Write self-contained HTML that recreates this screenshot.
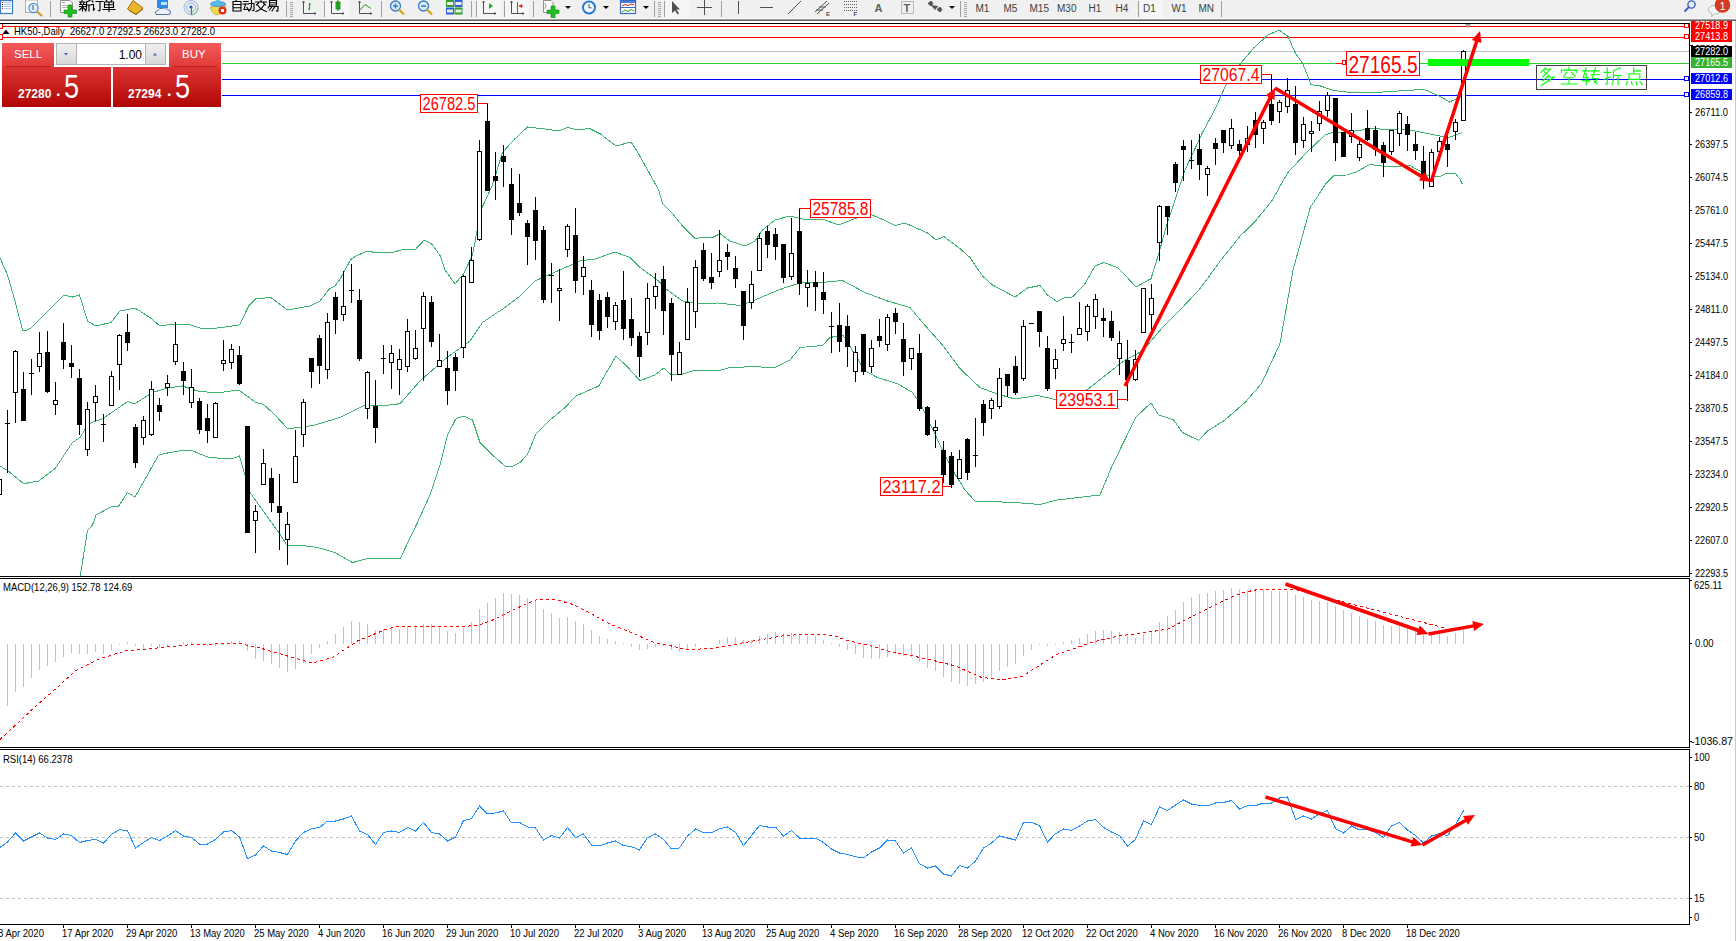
<!DOCTYPE html>
<html><head><meta charset="utf-8">
<style>
html,body{margin:0;padding:0;}
body{width:1736px;height:941px;overflow:hidden;position:relative;background:#fff;font-family:"Liberation Sans",sans-serif;}
#tb{position:absolute;left:0;top:0;width:1736px;height:18px;background:#f0f0f0;border-bottom:1px solid #f6f6f6;}
#tbl{position:absolute;left:0;top:19px;width:1736px;height:1px;background:#a0a0a0;border-bottom:1px solid #646464;}
#main{position:absolute;left:0;top:0;}
.tp{position:absolute;}
</style></head><body>
<div id="tb"></div><div id="tbl"></div>
<svg id="main" width="1736" height="941" viewBox="0 0 1736 941">
<defs><clipPath id="cm"><rect x="0" y="24" width="1689" height="552"/></clipPath><clipPath id="cmacd"><rect x="0" y="579" width="1689" height="168"/></clipPath><clipPath id="crsi"><rect x="0" y="750" width="1689" height="174"/></clipPath></defs>
<g shape-rendering="crispEdges">
<rect x="0" y="26" width="1689" height="1" fill="#ff0000"/>
<rect x="0" y="37" width="1689" height="1" fill="#ff0000"/>
<rect x="0" y="51" width="1689" height="1" fill="#c0c0c0"/>
<rect x="0" y="63" width="1689" height="1" fill="#32cd32"/>
<rect x="0" y="79" width="1689" height="1" fill="#0000ff"/>
<rect x="0" y="95" width="1689" height="1" fill="#0000ff"/>
<rect x="-1.5" y="23.5" width="4" height="5" fill="#fff" stroke="#ff0000" stroke-width="1"/>
<rect x="1684.5" y="23.5" width="4" height="4" fill="#fff" stroke="#ff0000" stroke-width="1"/>
<rect x="-1.5" y="34.5" width="4" height="5" fill="#fff" stroke="#ff0000" stroke-width="1"/>
<rect x="1684.5" y="34.5" width="4" height="4" fill="#fff" stroke="#ff0000" stroke-width="1"/>
<rect x="1684.5" y="76.5" width="4" height="4" fill="#fff" stroke="#0000ff" stroke-width="1"/>
<rect x="1684.5" y="92.5" width="4" height="4" fill="#fff" stroke="#0000ff" stroke-width="1"/>
</g>
<g clip-path="url(#cm)" fill="none" stroke="#3cb371" stroke-width="1" shape-rendering="crispEdges">
<polyline points="0.0,258.0 7.4,274.6 14.9,300.7 22.5,330.0 27.0,330.0 31.0,328.0 64.0,295.0 72.5,297.0 79.5,295.0 87.5,321.0 96.0,326.0 111.0,322.5 120.0,311.0 135.0,308.0 150.0,317.5 160.0,326.0 175.0,324.0 187.5,324.0 200.0,328.0 217.0,328.0 225.0,327.0 239.5,325.0 248.7,306.0 256.0,298.7 271.0,297.5 287.5,310.0 310.0,306.0 320.0,301.0 328.7,289.5 335.0,286.0 340.0,279.3 350.6,259.6 356.0,255.9 366.6,251.4 371.9,251.6 373.0,252.5 392.0,252.5 403.8,249.3 415.5,249.3 424.0,240.2 431.4,243.7 440.0,255.4 445.0,270.0 455.0,284.0 463.7,273.7 472.5,255.0 481.0,210.0 492.5,185.0 502.5,152.5 515.0,138.7 527.5,127.0 542.5,128.7 558.7,131.0 567.5,127.5 576.0,129.5 590.0,128.7 600.0,133.7 616.0,146.0 631.0,142.0 637.0,151.0 658.7,190.0 662.5,203.7 672.5,213.7 682.5,226.0 695.0,238.7 705.0,237.0 712.5,237.5 720.0,233.7 730.0,241.0 745.0,246.0 755.0,241.0 762.5,230.0 775.0,220.0 790.0,216.0 802.5,219.0 823.7,219.5 838.7,225.0 850.0,220.5 860.0,217.0 871.0,214.5 885.0,220.5 895.0,225.5 905.0,223.0 915.0,227.5 927.5,233.0 936.0,240.0 944.0,236.7 960.0,248.7 970.0,257.5 982.5,276.0 992.5,285.0 1015.0,297.0 1027.5,288.0 1040.0,285.5 1047.5,295.0 1057.0,301.7 1065.0,297.5 1072.5,297.0 1085.0,283.7 1095.0,266.0 1103.7,262.5 1117.5,267.5 1125.0,275.0 1136.0,287.0 1151.0,278.7 1157.5,258.0 1167.5,222.5 1185.0,170.0 1202.5,132.5 1215.7,108.0 1226.0,84.8 1242.0,61.8 1253.7,48.0 1267.5,35.3 1279.0,30.0 1288.0,36.4 1295.0,52.6 1303.0,64.0 1311.0,84.8 1320.5,86.0 1334.0,90.6 1357.0,93.0 1380.4,92.2 1403.5,90.6 1424.0,89.4 1440.0,96.3 1449.5,102.0 1458.8,97.5 1462.5,96.0"/>
<polyline points="0.0,466.0 7.5,470.5 23.7,483.7 38.7,481.0 55.0,468.7 72.5,442.5 80.0,437.5 88.7,423.7 102.5,418.7 127.5,401.7 135.0,403.7 152.5,392.5 167.5,388.0 182.5,386.0 197.5,391.0 217.0,393.0 238.7,390.0 256.0,402.5 263.7,404.5 275.0,415.0 287.5,428.5 300.0,427.5 315.0,425.0 340.0,417.5 365.0,405.0 385.0,405.5 400.0,403.7 420.0,381.0 445.0,359.0 470.0,341.0 482.5,322.5 505.0,307.5 520.0,296.0 535.0,281.0 557.5,271.0 580.0,261.0 595.0,259.0 615.0,252.0 630.0,257.5 640.0,267.5 658.7,281.0 666.0,289.0 682.5,301.0 700.0,303.7 717.5,303.0 740.0,305.5 755.0,300.0 772.5,292.5 787.5,286.7 802.5,282.5 827.5,282.0 842.5,280.5 865.0,292.5 887.5,301.0 910.0,307.5 922.5,322.5 942.5,345.0 960.0,368.7 980.0,387.5 997.5,394.0 1015.0,399.0 1037.5,395.5 1057.5,400.0 1087.5,389.5 1107.5,373.7 1125.0,360.0 1142.5,351.0 1162.5,327.5 1180.0,310.0 1200.0,288.7 1221.0,260.0 1240.0,236.3 1256.0,220.4 1272.0,200.5 1287.8,172.6 1306.4,152.7 1325.0,135.0 1332.5,132.5 1348.7,132.0 1370.0,128.7 1410.0,130.0 1440.0,136.0 1447.5,138.0 1462.5,132.5"/>
<polyline points="78.0,590.0 87.4,531.0 92.5,525.0 96.0,515.0 111.0,507.0 118.7,506.0 127.5,492.5 135.0,497.0 158.7,455.0 167.5,453.0 185.0,450.0 192.5,450.7 207.5,457.0 217.0,458.0 231.0,459.0 239.5,456.0 245.0,475.0 250.0,492.5 262.5,510.0 278.7,532.5 287.5,546.0 302.5,545.5 317.5,547.5 335.0,552.5 352.5,562.5 367.5,558.7 400.0,559.0 417.5,522.5 430.0,495.0 440.0,465.0 447.5,435.0 456.0,418.7 463.7,416.0 472.5,420.0 480.0,442.5 492.5,455.0 505.0,466.0 511.0,467.0 520.0,462.5 527.5,454.5 536.0,434.0 550.0,420.0 565.0,407.5 576.0,396.0 598.7,386.0 616.0,356.0 627.5,367.0 640.0,380.7 655.0,375.0 663.7,368.0 671.0,374.5 680.0,375.0 695.0,370.0 717.5,371.0 730.0,367.5 752.5,366.7 775.0,367.5 790.0,360.0 800.0,347.5 822.5,345.5 830.0,337.5 843.0,335.0 865.0,371.0 877.5,377.5 897.5,383.7 912.5,392.5 922.5,407.5 940.0,445.0 952.5,470.0 965.0,490.0 975.0,501.0 1015.0,502.5 1040.0,504.5 1057.0,500.0 1100.0,495.0 1112.5,465.0 1136.0,417.0 1151.0,403.0 1158.7,415.0 1173.7,420.0 1182.5,432.5 1198.7,440.5 1207.5,431.0 1225.0,420.0 1245.0,402.5 1261.3,383.8 1279.9,344.0 1293.1,269.6 1310.4,207.1 1326.3,183.2 1334.3,175.2 1347.0,175.0 1355.0,172.5 1370.0,164.5 1390.0,167.0 1409.5,165.3 1421.0,171.7 1428.0,175.5 1440.0,176.5 1446.0,173.6 1455.5,173.5 1460.0,179.3 1462.5,184.5"/>
</g>
<g clip-path="url(#cm)" shape-rendering="crispEdges">
<rect x="-1" y="475" width="1" height="26" fill="#000"/>
<rect x="-2.5" y="479.5" width="4" height="15" fill="#fff" stroke="#000" stroke-width="1"/>
<rect x="7" y="410" width="1" height="63" fill="#000"/>
<rect x="5" y="423" width="5" height="1" fill="#000"/>
<rect x="15" y="350" width="1" height="73" fill="#000"/>
<rect x="13.5" y="351.5" width="4" height="41" fill="#fff" stroke="#000" stroke-width="1"/>
<rect x="23" y="372" width="1" height="49" fill="#000"/>
<rect x="21" y="389" width="5" height="32" fill="#000"/>
<rect x="31" y="359" width="1" height="36" fill="#000"/>
<rect x="29" y="373" width="5" height="1" fill="#000"/>
<rect x="39" y="332" width="1" height="40" fill="#000"/>
<rect x="37.5" y="353.5" width="4" height="13" fill="#fff" stroke="#000" stroke-width="1"/>
<rect x="47" y="331" width="1" height="62" fill="#000"/>
<rect x="45" y="352" width="5" height="40" fill="#000"/>
<rect x="55" y="382" width="1" height="33" fill="#000"/>
<rect x="53.5" y="400.5" width="4" height="4" fill="#fff" stroke="#000" stroke-width="1"/>
<rect x="63" y="323" width="1" height="46" fill="#000"/>
<rect x="61" y="342" width="5" height="18" fill="#000"/>
<rect x="71" y="345" width="1" height="33" fill="#000"/>
<rect x="69" y="363" width="5" height="4" fill="#000"/>
<rect x="79" y="369" width="1" height="66" fill="#000"/>
<rect x="77" y="378" width="5" height="47" fill="#000"/>
<rect x="87" y="402" width="1" height="54" fill="#000"/>
<rect x="85.5" y="409.5" width="4" height="40" fill="#fff" stroke="#000" stroke-width="1"/>
<rect x="95" y="385" width="1" height="36" fill="#000"/>
<rect x="93.5" y="396.5" width="4" height="6" fill="#fff" stroke="#000" stroke-width="1"/>
<rect x="103" y="414" width="1" height="28" fill="#000"/>
<rect x="101" y="424" width="5" height="1" fill="#000"/>
<rect x="111" y="371" width="1" height="35" fill="#000"/>
<rect x="109.5" y="376.5" width="4" height="29" fill="#fff" stroke="#000" stroke-width="1"/>
<rect x="119" y="334" width="1" height="56" fill="#000"/>
<rect x="117.5" y="335.5" width="4" height="29" fill="#fff" stroke="#000" stroke-width="1"/>
<rect x="127" y="314" width="1" height="37" fill="#000"/>
<rect x="125" y="332" width="5" height="11" fill="#000"/>
<rect x="135" y="424" width="1" height="44" fill="#000"/>
<rect x="133" y="427" width="5" height="36" fill="#000"/>
<rect x="143" y="416" width="1" height="29" fill="#000"/>
<rect x="141.5" y="420.5" width="4" height="17" fill="#fff" stroke="#000" stroke-width="1"/>
<rect x="151" y="381" width="1" height="55" fill="#000"/>
<rect x="149.5" y="389.5" width="4" height="45" fill="#fff" stroke="#000" stroke-width="1"/>
<rect x="159" y="398" width="1" height="23" fill="#000"/>
<rect x="157" y="405" width="5" height="7" fill="#000"/>
<rect x="167" y="375" width="1" height="21" fill="#000"/>
<rect x="165.5" y="383.5" width="4" height="4" fill="#fff" stroke="#000" stroke-width="1"/>
<rect x="175" y="322" width="1" height="43" fill="#000"/>
<rect x="173.5" y="344.5" width="4" height="17" fill="#fff" stroke="#000" stroke-width="1"/>
<rect x="183" y="362" width="1" height="33" fill="#000"/>
<rect x="181" y="371" width="5" height="10" fill="#000"/>
<rect x="191" y="369" width="1" height="39" fill="#000"/>
<rect x="189.5" y="387.5" width="4" height="15" fill="#fff" stroke="#000" stroke-width="1"/>
<rect x="199" y="398" width="1" height="36" fill="#000"/>
<rect x="197" y="401" width="5" height="29" fill="#000"/>
<rect x="207" y="404" width="1" height="39" fill="#000"/>
<rect x="205" y="418" width="5" height="13" fill="#000"/>
<rect x="215" y="402" width="1" height="36" fill="#000"/>
<rect x="213.5" y="403.5" width="4" height="34" fill="#fff" stroke="#000" stroke-width="1"/>
<rect x="223" y="340" width="1" height="31" fill="#000"/>
<rect x="221.5" y="360.5" width="4" height="3" fill="#fff" stroke="#000" stroke-width="1"/>
<rect x="231" y="344" width="1" height="25" fill="#000"/>
<rect x="229.5" y="349.5" width="4" height="13" fill="#fff" stroke="#000" stroke-width="1"/>
<rect x="239" y="346" width="1" height="39" fill="#000"/>
<rect x="237" y="355" width="5" height="29" fill="#000"/>
<rect x="247" y="426" width="1" height="107" fill="#000"/>
<rect x="245" y="426" width="5" height="107" fill="#000"/>
<rect x="255" y="505" width="1" height="48" fill="#000"/>
<rect x="253.5" y="511.5" width="4" height="9" fill="#fff" stroke="#000" stroke-width="1"/>
<rect x="263" y="449" width="1" height="36" fill="#000"/>
<rect x="261.5" y="463.5" width="4" height="21" fill="#fff" stroke="#000" stroke-width="1"/>
<rect x="271" y="468" width="1" height="44" fill="#000"/>
<rect x="269" y="478" width="5" height="25" fill="#000"/>
<rect x="279" y="474" width="1" height="76" fill="#000"/>
<rect x="277" y="506" width="5" height="7" fill="#000"/>
<rect x="287" y="512" width="1" height="53" fill="#000"/>
<rect x="285.5" y="524.5" width="4" height="15" fill="#fff" stroke="#000" stroke-width="1"/>
<rect x="295" y="430" width="1" height="53" fill="#000"/>
<rect x="293.5" y="456.5" width="4" height="26" fill="#fff" stroke="#000" stroke-width="1"/>
<rect x="303" y="399" width="1" height="48" fill="#000"/>
<rect x="301.5" y="402.5" width="4" height="32" fill="#fff" stroke="#000" stroke-width="1"/>
<rect x="311" y="358" width="1" height="30" fill="#000"/>
<rect x="309" y="358" width="5" height="14" fill="#000"/>
<rect x="319" y="335" width="1" height="49" fill="#000"/>
<rect x="317" y="338" width="5" height="28" fill="#000"/>
<rect x="327" y="313" width="1" height="66" fill="#000"/>
<rect x="325.5" y="322.5" width="4" height="47" fill="#fff" stroke="#000" stroke-width="1"/>
<rect x="335" y="292" width="1" height="42" fill="#000"/>
<rect x="333" y="297" width="5" height="23" fill="#000"/>
<rect x="343" y="271" width="1" height="50" fill="#000"/>
<rect x="341.5" y="306.5" width="4" height="8" fill="#fff" stroke="#000" stroke-width="1"/>
<rect x="351" y="264" width="1" height="39" fill="#000"/>
<rect x="349" y="290" width="5" height="1" fill="#000"/>
<rect x="359" y="289" width="1" height="72" fill="#000"/>
<rect x="357" y="300" width="5" height="59" fill="#000"/>
<rect x="367" y="371" width="1" height="48" fill="#000"/>
<rect x="365.5" y="372.5" width="4" height="36" fill="#fff" stroke="#000" stroke-width="1"/>
<rect x="375" y="380" width="1" height="63" fill="#000"/>
<rect x="373" y="406" width="5" height="22" fill="#000"/>
<rect x="383" y="345" width="1" height="29" fill="#000"/>
<rect x="381" y="358" width="5" height="1" fill="#000"/>
<rect x="391" y="345" width="1" height="44" fill="#000"/>
<rect x="389.5" y="353.5" width="4" height="9" fill="#fff" stroke="#000" stroke-width="1"/>
<rect x="399" y="349" width="1" height="46" fill="#000"/>
<rect x="397.5" y="359.5" width="4" height="10" fill="#fff" stroke="#000" stroke-width="1"/>
<rect x="407" y="319" width="1" height="53" fill="#000"/>
<rect x="405.5" y="331.5" width="4" height="35" fill="#fff" stroke="#000" stroke-width="1"/>
<rect x="415" y="330" width="1" height="30" fill="#000"/>
<rect x="413.5" y="348.5" width="4" height="10" fill="#fff" stroke="#000" stroke-width="1"/>
<rect x="423" y="292" width="1" height="89" fill="#000"/>
<rect x="421.5" y="296.5" width="4" height="32" fill="#fff" stroke="#000" stroke-width="1"/>
<rect x="431" y="296" width="1" height="51" fill="#000"/>
<rect x="429" y="302" width="5" height="40" fill="#000"/>
<rect x="439" y="334" width="1" height="33" fill="#000"/>
<rect x="437.5" y="360.5" width="4" height="6" fill="#fff" stroke="#000" stroke-width="1"/>
<rect x="447" y="351" width="1" height="54" fill="#000"/>
<rect x="445" y="368" width="5" height="23" fill="#000"/>
<rect x="455" y="353" width="1" height="38" fill="#000"/>
<rect x="453" y="357" width="5" height="14" fill="#000"/>
<rect x="463" y="275" width="1" height="83" fill="#000"/>
<rect x="461.5" y="276.5" width="4" height="71" fill="#fff" stroke="#000" stroke-width="1"/>
<rect x="471" y="247" width="1" height="36" fill="#000"/>
<rect x="469.5" y="260.5" width="4" height="22" fill="#fff" stroke="#000" stroke-width="1"/>
<rect x="479" y="140" width="1" height="101" fill="#000"/>
<rect x="477.5" y="151.5" width="4" height="88" fill="#fff" stroke="#000" stroke-width="1"/>
<rect x="487" y="104" width="1" height="87" fill="#000"/>
<rect x="485" y="121" width="5" height="70" fill="#000"/>
<rect x="495" y="152" width="1" height="48" fill="#000"/>
<rect x="493" y="176" width="5" height="5" fill="#000"/>
<rect x="503" y="145" width="1" height="42" fill="#000"/>
<rect x="501" y="156" width="5" height="6" fill="#000"/>
<rect x="511" y="168" width="1" height="67" fill="#000"/>
<rect x="509" y="184" width="5" height="36" fill="#000"/>
<rect x="519" y="174" width="1" height="42" fill="#000"/>
<rect x="517" y="203" width="5" height="10" fill="#000"/>
<rect x="527" y="220" width="1" height="45" fill="#000"/>
<rect x="525" y="223" width="5" height="14" fill="#000"/>
<rect x="535" y="197" width="1" height="63" fill="#000"/>
<rect x="533" y="210" width="5" height="31" fill="#000"/>
<rect x="543" y="226" width="1" height="77" fill="#000"/>
<rect x="541" y="230" width="5" height="70" fill="#000"/>
<rect x="551" y="263" width="1" height="40" fill="#000"/>
<rect x="549" y="275" width="5" height="1" fill="#000"/>
<rect x="559" y="269" width="1" height="52" fill="#000"/>
<rect x="557.5" y="288.5" width="4" height="2" fill="#fff" stroke="#000" stroke-width="1"/>
<rect x="567" y="224" width="1" height="33" fill="#000"/>
<rect x="565.5" y="226.5" width="4" height="23" fill="#fff" stroke="#000" stroke-width="1"/>
<rect x="575" y="208" width="1" height="85" fill="#000"/>
<rect x="573" y="235" width="5" height="46" fill="#000"/>
<rect x="583" y="256" width="1" height="39" fill="#000"/>
<rect x="581.5" y="267.5" width="4" height="9" fill="#fff" stroke="#000" stroke-width="1"/>
<rect x="591" y="280" width="1" height="57" fill="#000"/>
<rect x="589" y="290" width="5" height="35" fill="#000"/>
<rect x="599" y="294" width="1" height="46" fill="#000"/>
<rect x="597" y="300" width="5" height="31" fill="#000"/>
<rect x="607" y="292" width="1" height="36" fill="#000"/>
<rect x="605" y="297" width="5" height="20" fill="#000"/>
<rect x="615" y="302" width="1" height="28" fill="#000"/>
<rect x="613.5" y="305.5" width="4" height="16" fill="#fff" stroke="#000" stroke-width="1"/>
<rect x="623" y="271" width="1" height="69" fill="#000"/>
<rect x="621" y="300" width="5" height="29" fill="#000"/>
<rect x="631" y="298" width="1" height="48" fill="#000"/>
<rect x="629" y="319" width="5" height="19" fill="#000"/>
<rect x="639" y="332" width="1" height="45" fill="#000"/>
<rect x="637" y="336" width="5" height="21" fill="#000"/>
<rect x="647" y="283" width="1" height="62" fill="#000"/>
<rect x="645.5" y="298.5" width="4" height="34" fill="#fff" stroke="#000" stroke-width="1"/>
<rect x="655" y="273" width="1" height="36" fill="#000"/>
<rect x="653.5" y="286.5" width="4" height="10" fill="#fff" stroke="#000" stroke-width="1"/>
<rect x="663" y="266" width="1" height="69" fill="#000"/>
<rect x="661" y="279" width="5" height="32" fill="#000"/>
<rect x="671" y="298" width="1" height="83" fill="#000"/>
<rect x="669" y="303" width="5" height="52" fill="#000"/>
<rect x="679" y="342" width="1" height="33" fill="#000"/>
<rect x="677.5" y="352.5" width="4" height="22" fill="#fff" stroke="#000" stroke-width="1"/>
<rect x="687" y="288" width="1" height="52" fill="#000"/>
<rect x="685.5" y="302.5" width="4" height="37" fill="#fff" stroke="#000" stroke-width="1"/>
<rect x="695" y="260" width="1" height="68" fill="#000"/>
<rect x="693.5" y="267.5" width="4" height="44" fill="#fff" stroke="#000" stroke-width="1"/>
<rect x="703" y="243" width="1" height="38" fill="#000"/>
<rect x="701" y="250" width="5" height="29" fill="#000"/>
<rect x="711" y="253" width="1" height="36" fill="#000"/>
<rect x="709" y="277" width="5" height="6" fill="#000"/>
<rect x="719" y="230" width="1" height="47" fill="#000"/>
<rect x="717.5" y="260.5" width="4" height="11" fill="#fff" stroke="#000" stroke-width="1"/>
<rect x="727" y="244" width="1" height="26" fill="#000"/>
<rect x="725" y="252" width="5" height="5" fill="#000"/>
<rect x="735" y="256" width="1" height="32" fill="#000"/>
<rect x="733" y="268" width="5" height="11" fill="#000"/>
<rect x="743" y="291" width="1" height="49" fill="#000"/>
<rect x="741" y="291" width="5" height="35" fill="#000"/>
<rect x="751" y="271" width="1" height="38" fill="#000"/>
<rect x="749.5" y="284.5" width="4" height="18" fill="#fff" stroke="#000" stroke-width="1"/>
<rect x="759" y="233" width="1" height="38" fill="#000"/>
<rect x="757.5" y="238.5" width="4" height="32" fill="#fff" stroke="#000" stroke-width="1"/>
<rect x="767" y="226" width="1" height="32" fill="#000"/>
<rect x="765" y="231" width="5" height="14" fill="#000"/>
<rect x="775" y="228" width="1" height="32" fill="#000"/>
<rect x="773" y="234" width="5" height="13" fill="#000"/>
<rect x="783" y="244" width="1" height="39" fill="#000"/>
<rect x="781" y="244" width="5" height="34" fill="#000"/>
<rect x="791" y="218" width="1" height="62" fill="#000"/>
<rect x="789.5" y="253.5" width="4" height="23" fill="#fff" stroke="#000" stroke-width="1"/>
<rect x="799" y="208" width="1" height="87" fill="#000"/>
<rect x="797" y="231" width="5" height="53" fill="#000"/>
<rect x="807" y="270" width="1" height="37" fill="#000"/>
<rect x="805.5" y="283.5" width="4" height="4" fill="#fff" stroke="#000" stroke-width="1"/>
<rect x="815" y="271" width="1" height="40" fill="#000"/>
<rect x="813" y="282" width="5" height="5" fill="#000"/>
<rect x="823" y="272" width="1" height="42" fill="#000"/>
<rect x="821" y="292" width="5" height="8" fill="#000"/>
<rect x="831" y="312" width="1" height="41" fill="#000"/>
<rect x="829" y="326" width="5" height="1" fill="#000"/>
<rect x="839" y="303" width="1" height="49" fill="#000"/>
<rect x="837" y="325" width="5" height="17" fill="#000"/>
<rect x="847" y="315" width="1" height="52" fill="#000"/>
<rect x="845" y="326" width="5" height="21" fill="#000"/>
<rect x="855" y="346" width="1" height="36" fill="#000"/>
<rect x="853.5" y="352.5" width="4" height="19" fill="#fff" stroke="#000" stroke-width="1"/>
<rect x="863" y="334" width="1" height="41" fill="#000"/>
<rect x="861" y="334" width="5" height="38" fill="#000"/>
<rect x="871" y="340" width="1" height="33" fill="#000"/>
<rect x="869.5" y="348.5" width="4" height="18" fill="#fff" stroke="#000" stroke-width="1"/>
<rect x="879" y="319" width="1" height="28" fill="#000"/>
<rect x="877" y="336" width="5" height="5" fill="#000"/>
<rect x="887" y="314" width="1" height="37" fill="#000"/>
<rect x="885.5" y="317.5" width="4" height="27" fill="#fff" stroke="#000" stroke-width="1"/>
<rect x="895" y="308" width="1" height="26" fill="#000"/>
<rect x="893" y="313" width="5" height="9" fill="#000"/>
<rect x="903" y="323" width="1" height="53" fill="#000"/>
<rect x="901" y="339" width="5" height="23" fill="#000"/>
<rect x="911" y="348" width="1" height="22" fill="#000"/>
<rect x="909.5" y="348.5" width="4" height="10" fill="#fff" stroke="#000" stroke-width="1"/>
<rect x="919" y="334" width="1" height="77" fill="#000"/>
<rect x="917" y="353" width="5" height="56" fill="#000"/>
<rect x="927" y="406" width="1" height="30" fill="#000"/>
<rect x="925" y="407" width="5" height="28" fill="#000"/>
<rect x="935" y="420" width="1" height="28" fill="#000"/>
<rect x="933.5" y="427.5" width="4" height="3" fill="#fff" stroke="#000" stroke-width="1"/>
<rect x="943" y="441" width="1" height="42" fill="#000"/>
<rect x="941" y="450" width="5" height="25" fill="#000"/>
<rect x="951" y="452" width="1" height="36" fill="#000"/>
<rect x="949" y="456" width="5" height="29" fill="#000"/>
<rect x="959" y="450" width="1" height="29" fill="#000"/>
<rect x="957.5" y="459.5" width="4" height="19" fill="#fff" stroke="#000" stroke-width="1"/>
<rect x="967" y="438" width="1" height="42" fill="#000"/>
<rect x="965" y="439" width="5" height="34" fill="#000"/>
<rect x="975" y="418" width="1" height="49" fill="#000"/>
<rect x="973" y="455" width="5" height="1" fill="#000"/>
<rect x="983" y="400" width="1" height="36" fill="#000"/>
<rect x="981" y="404" width="5" height="19" fill="#000"/>
<rect x="991" y="398" width="1" height="21" fill="#000"/>
<rect x="989.5" y="400.5" width="4" height="8" fill="#fff" stroke="#000" stroke-width="1"/>
<rect x="999" y="368" width="1" height="41" fill="#000"/>
<rect x="997.5" y="378.5" width="4" height="28" fill="#fff" stroke="#000" stroke-width="1"/>
<rect x="1007" y="374" width="1" height="23" fill="#000"/>
<rect x="1005" y="374" width="5" height="12" fill="#000"/>
<rect x="1015" y="356" width="1" height="39" fill="#000"/>
<rect x="1013" y="366" width="5" height="27" fill="#000"/>
<rect x="1023" y="320" width="1" height="61" fill="#000"/>
<rect x="1021.5" y="326.5" width="4" height="52" fill="#fff" stroke="#000" stroke-width="1"/>
<rect x="1031" y="323" width="1" height="1" fill="#000"/>
<rect x="1029" y="323" width="5" height="1" fill="#000"/>
<rect x="1039" y="311" width="1" height="36" fill="#000"/>
<rect x="1037" y="311" width="5" height="21" fill="#000"/>
<rect x="1047" y="336" width="1" height="55" fill="#000"/>
<rect x="1045" y="348" width="5" height="41" fill="#000"/>
<rect x="1055" y="349" width="1" height="30" fill="#000"/>
<rect x="1053.5" y="359.5" width="4" height="9" fill="#fff" stroke="#000" stroke-width="1"/>
<rect x="1063" y="316" width="1" height="35" fill="#000"/>
<rect x="1061.5" y="339.5" width="4" height="4" fill="#fff" stroke="#000" stroke-width="1"/>
<rect x="1071" y="334" width="1" height="19" fill="#000"/>
<rect x="1069" y="342" width="5" height="1" fill="#000"/>
<rect x="1079" y="302" width="1" height="33" fill="#000"/>
<rect x="1077.5" y="328.5" width="4" height="6" fill="#fff" stroke="#000" stroke-width="1"/>
<rect x="1087" y="304" width="1" height="37" fill="#000"/>
<rect x="1085.5" y="306.5" width="4" height="25" fill="#fff" stroke="#000" stroke-width="1"/>
<rect x="1095" y="294" width="1" height="35" fill="#000"/>
<rect x="1093.5" y="299.5" width="4" height="17" fill="#fff" stroke="#000" stroke-width="1"/>
<rect x="1103" y="308" width="1" height="29" fill="#000"/>
<rect x="1101" y="318" width="5" height="3" fill="#000"/>
<rect x="1111" y="311" width="1" height="30" fill="#000"/>
<rect x="1109" y="321" width="5" height="17" fill="#000"/>
<rect x="1119" y="331" width="1" height="44" fill="#000"/>
<rect x="1117.5" y="343.5" width="4" height="15" fill="#fff" stroke="#000" stroke-width="1"/>
<rect x="1127" y="340" width="1" height="61" fill="#000"/>
<rect x="1125" y="360" width="5" height="20" fill="#000"/>
<rect x="1135" y="350" width="1" height="31" fill="#000"/>
<rect x="1133.5" y="359.5" width="4" height="20" fill="#fff" stroke="#000" stroke-width="1"/>
<rect x="1143" y="288" width="1" height="45" fill="#000"/>
<rect x="1141.5" y="288.5" width="4" height="44" fill="#fff" stroke="#000" stroke-width="1"/>
<rect x="1151" y="284" width="1" height="46" fill="#000"/>
<rect x="1149.5" y="298.5" width="4" height="16" fill="#fff" stroke="#000" stroke-width="1"/>
<rect x="1159" y="205" width="1" height="56" fill="#000"/>
<rect x="1157.5" y="206.5" width="4" height="36" fill="#fff" stroke="#000" stroke-width="1"/>
<rect x="1167" y="206" width="1" height="29" fill="#000"/>
<rect x="1165" y="206" width="5" height="11" fill="#000"/>
<rect x="1175" y="162" width="1" height="30" fill="#000"/>
<rect x="1173" y="164" width="5" height="19" fill="#000"/>
<rect x="1183" y="140" width="1" height="41" fill="#000"/>
<rect x="1181" y="146" width="5" height="4" fill="#000"/>
<rect x="1191" y="140" width="1" height="29" fill="#000"/>
<rect x="1189" y="160" width="5" height="1" fill="#000"/>
<rect x="1199" y="134" width="1" height="46" fill="#000"/>
<rect x="1197" y="149" width="5" height="16" fill="#000"/>
<rect x="1207" y="166" width="1" height="30" fill="#000"/>
<rect x="1205.5" y="168.5" width="4" height="6" fill="#fff" stroke="#000" stroke-width="1"/>
<rect x="1215" y="138" width="1" height="27" fill="#000"/>
<rect x="1213" y="143" width="5" height="6" fill="#000"/>
<rect x="1223" y="130" width="1" height="23" fill="#000"/>
<rect x="1221" y="130" width="5" height="13" fill="#000"/>
<rect x="1231" y="119" width="1" height="30" fill="#000"/>
<rect x="1229.5" y="128.5" width="4" height="17" fill="#fff" stroke="#000" stroke-width="1"/>
<rect x="1239" y="140" width="1" height="15" fill="#000"/>
<rect x="1237" y="144" width="5" height="7" fill="#000"/>
<rect x="1247" y="126" width="1" height="26" fill="#000"/>
<rect x="1245.5" y="138.5" width="4" height="6" fill="#fff" stroke="#000" stroke-width="1"/>
<rect x="1255" y="112" width="1" height="36" fill="#000"/>
<rect x="1253" y="120" width="5" height="15" fill="#000"/>
<rect x="1263" y="120" width="1" height="24" fill="#000"/>
<rect x="1261.5" y="122.5" width="4" height="6" fill="#fff" stroke="#000" stroke-width="1"/>
<rect x="1271" y="74" width="1" height="51" fill="#000"/>
<rect x="1269" y="104" width="5" height="17" fill="#000"/>
<rect x="1279" y="100" width="1" height="23" fill="#000"/>
<rect x="1277.5" y="102.5" width="4" height="9" fill="#fff" stroke="#000" stroke-width="1"/>
<rect x="1287" y="78" width="1" height="35" fill="#000"/>
<rect x="1285.5" y="90.5" width="4" height="16" fill="#fff" stroke="#000" stroke-width="1"/>
<rect x="1295" y="86" width="1" height="69" fill="#000"/>
<rect x="1293" y="104" width="5" height="39" fill="#000"/>
<rect x="1303" y="117" width="1" height="31" fill="#000"/>
<rect x="1301.5" y="124.5" width="4" height="16" fill="#fff" stroke="#000" stroke-width="1"/>
<rect x="1311" y="121" width="1" height="31" fill="#000"/>
<rect x="1309.5" y="131.5" width="4" height="2" fill="#fff" stroke="#000" stroke-width="1"/>
<rect x="1319" y="101" width="1" height="30" fill="#000"/>
<rect x="1317.5" y="111.5" width="4" height="12" fill="#fff" stroke="#000" stroke-width="1"/>
<rect x="1327" y="92" width="1" height="25" fill="#000"/>
<rect x="1325.5" y="95.5" width="4" height="15" fill="#fff" stroke="#000" stroke-width="1"/>
<rect x="1335" y="98" width="1" height="63" fill="#000"/>
<rect x="1333" y="98" width="5" height="45" fill="#000"/>
<rect x="1343" y="132" width="1" height="25" fill="#000"/>
<rect x="1341" y="132" width="5" height="25" fill="#000"/>
<rect x="1351" y="113" width="1" height="30" fill="#000"/>
<rect x="1349.5" y="130.5" width="4" height="6" fill="#fff" stroke="#000" stroke-width="1"/>
<rect x="1359" y="141" width="1" height="20" fill="#000"/>
<rect x="1357.5" y="144.5" width="4" height="13" fill="#fff" stroke="#000" stroke-width="1"/>
<rect x="1367" y="110" width="1" height="31" fill="#000"/>
<rect x="1365" y="128" width="5" height="12" fill="#000"/>
<rect x="1375" y="126" width="1" height="30" fill="#000"/>
<rect x="1373" y="130" width="5" height="20" fill="#000"/>
<rect x="1383" y="142" width="1" height="35" fill="#000"/>
<rect x="1381" y="145" width="5" height="18" fill="#000"/>
<rect x="1391" y="130" width="1" height="25" fill="#000"/>
<rect x="1389.5" y="130.5" width="4" height="21" fill="#fff" stroke="#000" stroke-width="1"/>
<rect x="1399" y="111" width="1" height="35" fill="#000"/>
<rect x="1397.5" y="113.5" width="4" height="20" fill="#fff" stroke="#000" stroke-width="1"/>
<rect x="1407" y="116" width="1" height="35" fill="#000"/>
<rect x="1405" y="124" width="5" height="11" fill="#000"/>
<rect x="1415" y="132" width="1" height="28" fill="#000"/>
<rect x="1413" y="144" width="5" height="7" fill="#000"/>
<rect x="1423" y="146" width="1" height="43" fill="#000"/>
<rect x="1421" y="161" width="5" height="14" fill="#000"/>
<rect x="1431" y="149" width="1" height="38" fill="#000"/>
<rect x="1429.5" y="152.5" width="4" height="34" fill="#fff" stroke="#000" stroke-width="1"/>
<rect x="1439" y="137" width="1" height="24" fill="#000"/>
<rect x="1437.5" y="141.5" width="4" height="10" fill="#fff" stroke="#000" stroke-width="1"/>
<rect x="1447" y="136" width="1" height="31" fill="#000"/>
<rect x="1445" y="144" width="5" height="6" fill="#000"/>
<rect x="1455" y="119" width="1" height="21" fill="#000"/>
<rect x="1453.5" y="122.5" width="4" height="9" fill="#fff" stroke="#000" stroke-width="1"/>
<rect x="1463" y="50" width="1" height="71" fill="#000"/>
<rect x="1461.5" y="51.5" width="4" height="69" fill="#fff" stroke="#000" stroke-width="1"/>
</g>
<g shape-rendering="crispEdges">
<rect x="477" y="103" width="11" height="1" fill="#ff0000"/>
<rect x="799" y="208" width="11" height="1" fill="#ff0000"/>
<rect x="942" y="486" width="9" height="1" fill="#ff0000"/>
<rect x="1117" y="399" width="10" height="1" fill="#ff0000"/>
<rect x="1261" y="74" width="11" height="1" fill="#ff0000"/>
<rect x="1336" y="63" width="8" height="1" fill="#ff0000"/>
</g>
<rect x="420.5" y="94.5" width="57" height="18" fill="#fff" stroke="#ff0000" stroke-width="1" shape-rendering="crispEdges"/>
<text x="449.0" y="110" font-family="Liberation Sans, sans-serif" font-size="18" fill="#ff0000" text-anchor="middle" textLength="53" lengthAdjust="spacingAndGlyphs">26782.5</text>
<rect x="810.5" y="199.5" width="60" height="18" fill="#fff" stroke="#ff0000" stroke-width="1" shape-rendering="crispEdges"/>
<text x="840.5" y="215" font-family="Liberation Sans, sans-serif" font-size="18" fill="#ff0000" text-anchor="middle" textLength="56" lengthAdjust="spacingAndGlyphs">25785.8</text>
<rect x="880.5" y="477.5" width="62" height="18" fill="#fff" stroke="#ff0000" stroke-width="1" shape-rendering="crispEdges"/>
<text x="911.5" y="493" font-family="Liberation Sans, sans-serif" font-size="18" fill="#ff0000" text-anchor="middle" textLength="58" lengthAdjust="spacingAndGlyphs">23117.2</text>
<rect x="1056.5" y="390.5" width="61" height="18" fill="#fff" stroke="#ff0000" stroke-width="1" shape-rendering="crispEdges"/>
<text x="1087.0" y="406" font-family="Liberation Sans, sans-serif" font-size="18" fill="#ff0000" text-anchor="middle" textLength="57" lengthAdjust="spacingAndGlyphs">23953.1</text>
<rect x="1200.5" y="65.5" width="61" height="18" fill="#fff" stroke="#ff0000" stroke-width="1" shape-rendering="crispEdges"/>
<text x="1231.0" y="81" font-family="Liberation Sans, sans-serif" font-size="18.5" fill="#ff0000" text-anchor="middle" textLength="57" lengthAdjust="spacingAndGlyphs">27067.4</text>
<rect x="1346.5" y="51.5" width="73" height="24" fill="#fff" stroke="#ff0000" stroke-width="1" shape-rendering="crispEdges"/>
<text x="1383.0" y="73" font-family="Liberation Sans, sans-serif" font-size="23" fill="#ff0000" text-anchor="middle" textLength="69" lengthAdjust="spacingAndGlyphs">27165.5</text>
<rect x="1342.5" y="60.5" width="3" height="4" fill="#fff" stroke="#ff0000" stroke-width="1"/>
<rect x="1428" y="59" width="101" height="7" fill="#00ff00"/>
<rect x="1536.5" y="65.5" width="110" height="24" fill="none" stroke="#404040" stroke-width="1" shape-rendering="crispEdges"/>
<line x1="1125" y1="386" x2="1271.0" y2="96.0" stroke="#ff0000" stroke-width="3.5"/>
<polygon points="1275.0,88.0 1274.5,100.1 1265.6,95.6" fill="#ff0000"/>
<line x1="1275" y1="88" x2="1423.3" y2="177.4" stroke="#ff0000" stroke-width="3.5"/>
<polygon points="1431.0,182.0 1419.0,180.6 1424.2,172.0" fill="#ff0000"/>
<line x1="1431" y1="182" x2="1477.2" y2="39.6" stroke="#ff0000" stroke-width="3.5"/>
<polygon points="1480.0,31.0 1481.4,43.0 1471.8,39.9" fill="#ff0000"/>
<polygon points="1465,24 1471,24 1468,28" fill="#a0a0a0"/>
<g clip-path="url(#cmacd)" shape-rendering="crispEdges">
<rect x="7" y="644" width="1" height="62" fill="#c0c0c0"/>
<rect x="15" y="644" width="1" height="48" fill="#c0c0c0"/>
<rect x="23" y="644" width="1" height="43" fill="#c0c0c0"/>
<rect x="31" y="644" width="1" height="34" fill="#c0c0c0"/>
<rect x="39" y="644" width="1" height="26" fill="#c0c0c0"/>
<rect x="47" y="644" width="1" height="22" fill="#c0c0c0"/>
<rect x="55" y="644" width="1" height="18" fill="#c0c0c0"/>
<rect x="63" y="644" width="1" height="13" fill="#c0c0c0"/>
<rect x="71" y="644" width="1" height="9" fill="#c0c0c0"/>
<rect x="79" y="644" width="1" height="10" fill="#c0c0c0"/>
<rect x="87" y="644" width="1" height="10" fill="#c0c0c0"/>
<rect x="95" y="644" width="1" height="8" fill="#c0c0c0"/>
<rect x="103" y="644" width="1" height="10" fill="#c0c0c0"/>
<rect x="111" y="644" width="1" height="6" fill="#c0c0c0"/>
<rect x="119" y="644" width="1" height="1" fill="#c0c0c0"/>
<rect x="127" y="642" width="1" height="2" fill="#c0c0c0"/>
<rect x="135" y="644" width="1" height="2" fill="#c0c0c0"/>
<rect x="143" y="644" width="1" height="5" fill="#c0c0c0"/>
<rect x="151" y="644" width="1" height="2" fill="#c0c0c0"/>
<rect x="159" y="644" width="1" height="4" fill="#c0c0c0"/>
<rect x="167" y="644" width="1" height="2" fill="#c0c0c0"/>
<rect x="175" y="644" width="1" height="0" fill="#c0c0c0"/>
<rect x="183" y="642" width="1" height="2" fill="#c0c0c0"/>
<rect x="191" y="642" width="1" height="2" fill="#c0c0c0"/>
<rect x="199" y="644" width="1" height="1" fill="#c0c0c0"/>
<rect x="207" y="644" width="1" height="2" fill="#c0c0c0"/>
<rect x="215" y="644" width="1" height="2" fill="#c0c0c0"/>
<rect x="223" y="644" width="1" height="1" fill="#c0c0c0"/>
<rect x="231" y="641" width="1" height="3" fill="#c0c0c0"/>
<rect x="239" y="641" width="1" height="3" fill="#c0c0c0"/>
<rect x="247" y="644" width="1" height="7" fill="#c0c0c0"/>
<rect x="255" y="644" width="1" height="15" fill="#c0c0c0"/>
<rect x="263" y="644" width="1" height="17" fill="#c0c0c0"/>
<rect x="271" y="644" width="1" height="20" fill="#c0c0c0"/>
<rect x="279" y="644" width="1" height="24" fill="#c0c0c0"/>
<rect x="287" y="644" width="1" height="28" fill="#c0c0c0"/>
<rect x="295" y="644" width="1" height="25" fill="#c0c0c0"/>
<rect x="303" y="644" width="1" height="19" fill="#c0c0c0"/>
<rect x="311" y="644" width="1" height="10" fill="#c0c0c0"/>
<rect x="319" y="644" width="1" height="4" fill="#c0c0c0"/>
<rect x="327" y="641" width="1" height="3" fill="#c0c0c0"/>
<rect x="335" y="634" width="1" height="10" fill="#c0c0c0"/>
<rect x="343" y="627" width="1" height="17" fill="#c0c0c0"/>
<rect x="351" y="621" width="1" height="23" fill="#c0c0c0"/>
<rect x="359" y="622" width="1" height="22" fill="#c0c0c0"/>
<rect x="367" y="624" width="1" height="20" fill="#c0c0c0"/>
<rect x="375" y="630" width="1" height="14" fill="#c0c0c0"/>
<rect x="383" y="629" width="1" height="15" fill="#c0c0c0"/>
<rect x="391" y="628" width="1" height="16" fill="#c0c0c0"/>
<rect x="399" y="629" width="1" height="15" fill="#c0c0c0"/>
<rect x="407" y="626" width="1" height="18" fill="#c0c0c0"/>
<rect x="415" y="625" width="1" height="19" fill="#c0c0c0"/>
<rect x="423" y="624" width="1" height="20" fill="#c0c0c0"/>
<rect x="431" y="624" width="1" height="20" fill="#c0c0c0"/>
<rect x="439" y="627" width="1" height="17" fill="#c0c0c0"/>
<rect x="447" y="631" width="1" height="13" fill="#c0c0c0"/>
<rect x="455" y="633" width="1" height="11" fill="#c0c0c0"/>
<rect x="463" y="628" width="1" height="16" fill="#c0c0c0"/>
<rect x="471" y="622" width="1" height="22" fill="#c0c0c0"/>
<rect x="479" y="609" width="1" height="35" fill="#c0c0c0"/>
<rect x="487" y="603" width="1" height="41" fill="#c0c0c0"/>
<rect x="495" y="598" width="1" height="46" fill="#c0c0c0"/>
<rect x="503" y="593" width="1" height="51" fill="#c0c0c0"/>
<rect x="511" y="594" width="1" height="50" fill="#c0c0c0"/>
<rect x="519" y="595" width="1" height="49" fill="#c0c0c0"/>
<rect x="527" y="598" width="1" height="46" fill="#c0c0c0"/>
<rect x="535" y="600" width="1" height="44" fill="#c0c0c0"/>
<rect x="543" y="609" width="1" height="35" fill="#c0c0c0"/>
<rect x="551" y="613" width="1" height="31" fill="#c0c0c0"/>
<rect x="559" y="618" width="1" height="26" fill="#c0c0c0"/>
<rect x="567" y="617" width="1" height="27" fill="#c0c0c0"/>
<rect x="575" y="621" width="1" height="23" fill="#c0c0c0"/>
<rect x="583" y="624" width="1" height="20" fill="#c0c0c0"/>
<rect x="591" y="630" width="1" height="14" fill="#c0c0c0"/>
<rect x="599" y="636" width="1" height="8" fill="#c0c0c0"/>
<rect x="607" y="639" width="1" height="5" fill="#c0c0c0"/>
<rect x="615" y="641" width="1" height="3" fill="#c0c0c0"/>
<rect x="623" y="643" width="1" height="1" fill="#c0c0c0"/>
<rect x="631" y="644" width="1" height="3" fill="#c0c0c0"/>
<rect x="639" y="644" width="1" height="6" fill="#c0c0c0"/>
<rect x="647" y="644" width="1" height="5" fill="#c0c0c0"/>
<rect x="655" y="644" width="1" height="3" fill="#c0c0c0"/>
<rect x="663" y="644" width="1" height="2" fill="#c0c0c0"/>
<rect x="671" y="644" width="1" height="6" fill="#c0c0c0"/>
<rect x="679" y="644" width="1" height="8" fill="#c0c0c0"/>
<rect x="687" y="644" width="1" height="6" fill="#c0c0c0"/>
<rect x="695" y="644" width="1" height="3" fill="#c0c0c0"/>
<rect x="703" y="644" width="1" height="0" fill="#c0c0c0"/>
<rect x="711" y="644" width="1" height="0" fill="#c0c0c0"/>
<rect x="719" y="640" width="1" height="4" fill="#c0c0c0"/>
<rect x="727" y="637" width="1" height="7" fill="#c0c0c0"/>
<rect x="735" y="637" width="1" height="7" fill="#c0c0c0"/>
<rect x="743" y="640" width="1" height="4" fill="#c0c0c0"/>
<rect x="751" y="640" width="1" height="4" fill="#c0c0c0"/>
<rect x="759" y="636" width="1" height="8" fill="#c0c0c0"/>
<rect x="767" y="634" width="1" height="10" fill="#c0c0c0"/>
<rect x="775" y="632" width="1" height="12" fill="#c0c0c0"/>
<rect x="783" y="633" width="1" height="11" fill="#c0c0c0"/>
<rect x="791" y="633" width="1" height="11" fill="#c0c0c0"/>
<rect x="799" y="634" width="1" height="10" fill="#c0c0c0"/>
<rect x="807" y="636" width="1" height="8" fill="#c0c0c0"/>
<rect x="815" y="636" width="1" height="8" fill="#c0c0c0"/>
<rect x="823" y="640" width="1" height="4" fill="#c0c0c0"/>
<rect x="831" y="643" width="1" height="1" fill="#c0c0c0"/>
<rect x="839" y="644" width="1" height="3" fill="#c0c0c0"/>
<rect x="847" y="644" width="1" height="6" fill="#c0c0c0"/>
<rect x="855" y="644" width="1" height="10" fill="#c0c0c0"/>
<rect x="863" y="644" width="1" height="14" fill="#c0c0c0"/>
<rect x="871" y="644" width="1" height="15" fill="#c0c0c0"/>
<rect x="879" y="644" width="1" height="15" fill="#c0c0c0"/>
<rect x="887" y="644" width="1" height="13" fill="#c0c0c0"/>
<rect x="895" y="644" width="1" height="10" fill="#c0c0c0"/>
<rect x="903" y="644" width="1" height="12" fill="#c0c0c0"/>
<rect x="911" y="644" width="1" height="13" fill="#c0c0c0"/>
<rect x="919" y="644" width="1" height="18" fill="#c0c0c0"/>
<rect x="927" y="644" width="1" height="24" fill="#c0c0c0"/>
<rect x="935" y="644" width="1" height="27" fill="#c0c0c0"/>
<rect x="943" y="644" width="1" height="33" fill="#c0c0c0"/>
<rect x="951" y="644" width="1" height="38" fill="#c0c0c0"/>
<rect x="959" y="644" width="1" height="40" fill="#c0c0c0"/>
<rect x="967" y="644" width="1" height="42" fill="#c0c0c0"/>
<rect x="975" y="644" width="1" height="40" fill="#c0c0c0"/>
<rect x="983" y="644" width="1" height="38" fill="#c0c0c0"/>
<rect x="991" y="644" width="1" height="33" fill="#c0c0c0"/>
<rect x="999" y="644" width="1" height="27" fill="#c0c0c0"/>
<rect x="1007" y="644" width="1" height="23" fill="#c0c0c0"/>
<rect x="1015" y="644" width="1" height="20" fill="#c0c0c0"/>
<rect x="1023" y="644" width="1" height="12" fill="#c0c0c0"/>
<rect x="1031" y="644" width="1" height="6" fill="#c0c0c0"/>
<rect x="1039" y="644" width="1" height="1" fill="#c0c0c0"/>
<rect x="1047" y="644" width="1" height="2" fill="#c0c0c0"/>
<rect x="1055" y="644" width="1" height="1" fill="#c0c0c0"/>
<rect x="1063" y="642" width="1" height="2" fill="#c0c0c0"/>
<rect x="1071" y="640" width="1" height="4" fill="#c0c0c0"/>
<rect x="1079" y="638" width="1" height="6" fill="#c0c0c0"/>
<rect x="1087" y="634" width="1" height="10" fill="#c0c0c0"/>
<rect x="1095" y="631" width="1" height="13" fill="#c0c0c0"/>
<rect x="1103" y="630" width="1" height="14" fill="#c0c0c0"/>
<rect x="1111" y="631" width="1" height="13" fill="#c0c0c0"/>
<rect x="1119" y="632" width="1" height="12" fill="#c0c0c0"/>
<rect x="1127" y="636" width="1" height="8" fill="#c0c0c0"/>
<rect x="1135" y="638" width="1" height="6" fill="#c0c0c0"/>
<rect x="1143" y="634" width="1" height="10" fill="#c0c0c0"/>
<rect x="1151" y="632" width="1" height="12" fill="#c0c0c0"/>
<rect x="1159" y="622" width="1" height="22" fill="#c0c0c0"/>
<rect x="1167" y="616" width="1" height="28" fill="#c0c0c0"/>
<rect x="1175" y="610" width="1" height="34" fill="#c0c0c0"/>
<rect x="1183" y="602" width="1" height="42" fill="#c0c0c0"/>
<rect x="1191" y="597" width="1" height="47" fill="#c0c0c0"/>
<rect x="1199" y="594" width="1" height="50" fill="#c0c0c0"/>
<rect x="1207" y="593" width="1" height="51" fill="#c0c0c0"/>
<rect x="1215" y="591" width="1" height="53" fill="#c0c0c0"/>
<rect x="1223" y="590" width="1" height="54" fill="#c0c0c0"/>
<rect x="1231" y="588" width="1" height="56" fill="#c0c0c0"/>
<rect x="1239" y="589" width="1" height="55" fill="#c0c0c0"/>
<rect x="1247" y="590" width="1" height="54" fill="#c0c0c0"/>
<rect x="1255" y="590" width="1" height="54" fill="#c0c0c0"/>
<rect x="1263" y="590" width="1" height="54" fill="#c0c0c0"/>
<rect x="1271" y="591" width="1" height="53" fill="#c0c0c0"/>
<rect x="1279" y="591" width="1" height="53" fill="#c0c0c0"/>
<rect x="1287" y="591" width="1" height="53" fill="#c0c0c0"/>
<rect x="1295" y="595" width="1" height="49" fill="#c0c0c0"/>
<rect x="1303" y="597" width="1" height="47" fill="#c0c0c0"/>
<rect x="1311" y="600" width="1" height="44" fill="#c0c0c0"/>
<rect x="1319" y="601" width="1" height="43" fill="#c0c0c0"/>
<rect x="1327" y="602" width="1" height="42" fill="#c0c0c0"/>
<rect x="1335" y="606" width="1" height="38" fill="#c0c0c0"/>
<rect x="1343" y="610" width="1" height="34" fill="#c0c0c0"/>
<rect x="1351" y="613" width="1" height="31" fill="#c0c0c0"/>
<rect x="1359" y="616" width="1" height="28" fill="#c0c0c0"/>
<rect x="1367" y="619" width="1" height="25" fill="#c0c0c0"/>
<rect x="1375" y="621" width="1" height="23" fill="#c0c0c0"/>
<rect x="1383" y="625" width="1" height="19" fill="#c0c0c0"/>
<rect x="1391" y="626" width="1" height="18" fill="#c0c0c0"/>
<rect x="1399" y="626" width="1" height="18" fill="#c0c0c0"/>
<rect x="1407" y="629" width="1" height="15" fill="#c0c0c0"/>
<rect x="1415" y="631" width="1" height="13" fill="#c0c0c0"/>
<rect x="1423" y="635" width="1" height="9" fill="#c0c0c0"/>
<rect x="1431" y="635" width="1" height="9" fill="#c0c0c0"/>
<rect x="1439" y="634" width="1" height="10" fill="#c0c0c0"/>
<rect x="1447" y="636" width="1" height="8" fill="#c0c0c0"/>
<rect x="1455" y="633" width="1" height="11" fill="#c0c0c0"/>
<rect x="1463" y="629" width="1" height="15" fill="#c0c0c0"/>
</g>
<polyline clip-path="url(#cmacd)" points="0.0,739.5 36.0,706.0 60.0,685.0 75.0,671.0 100.0,658.7 125.0,651.0 150.0,648.7 187.5,645.0 237.5,643.0 262.5,648.7 287.5,656.0 312.5,663.0 332.5,657.5 357.5,641.0 387.5,628.7 400.0,626.0 434.0,626.0 459.0,627.0 479.0,625.0 494.0,619.5 509.0,612.0 526.5,603.7 539.0,599.0 554.0,599.0 571.5,604.0 589.0,612.5 609.0,623.7 634.0,633.7 654.0,642.5 671.5,646.0 686.5,649.5 709.0,648.7 734.0,644.5 759.0,640.0 784.0,635.7 809.0,634.0 834.0,635.5 846.5,640.5 868.0,645.0 893.0,652.5 913.0,656.0 935.5,661.0 955.5,666.0 980.5,677.0 1000.5,680.0 1023.0,676.0 1055.5,655.0 1093.0,642.0 1118.0,636.0 1143.0,633.0 1168.0,629.0 1193.0,616.0 1223.0,601.0 1243.0,592.5 1255.5,590.0 1296.0,589.8 1445.0,628.0" fill="none" stroke="#ff0000" stroke-width="1" stroke-dasharray="3,3" shape-rendering="crispEdges"/>
<line x1="1285.5" y1="584" x2="1420.0" y2="631.0" stroke="#ff0000" stroke-width="3.5"/>
<polygon points="1428.5,634.0 1416.5,635.1 1419.8,625.6" fill="#ff0000"/>
<line x1="1428.5" y1="634" x2="1475.1" y2="625.6" stroke="#ff0000" stroke-width="3.5"/>
<polygon points="1484.0,624.0 1474.1,630.9 1472.3,621.0" fill="#ff0000"/>
<g shape-rendering="crispEdges">
<line x1="0" y1="786.5" x2="1689" y2="786.5" stroke="#c0c0c0" stroke-width="1" stroke-dasharray="3,3"/>
<line x1="0" y1="837.5" x2="1689" y2="837.5" stroke="#c0c0c0" stroke-width="1" stroke-dasharray="3,3"/>
<line x1="0" y1="898.5" x2="1689" y2="898.5" stroke="#c0c0c0" stroke-width="1" stroke-dasharray="3,3"/>
</g>
<polyline clip-path="url(#crsi)" points="0.0,847.5 7.5,842.0 15.5,833.0 23.5,841.0 31.5,837.0 39.5,833.0 47.5,838.0 55.5,839.5 63.5,834.0 71.5,835.5 79.5,842.5 87.5,840.5 95.5,839.5 103.5,843.0 111.5,834.5 119.5,829.5 127.5,831.0 135.5,848.0 143.5,842.5 151.5,837.5 159.5,840.5 167.5,836.0 175.5,830.7 183.5,836.0 191.5,837.5 199.5,844.0 207.5,844.0 215.5,839.5 223.5,832.0 231.5,830.5 239.5,837.0 247.5,858.7 255.5,855.0 263.5,846.0 271.5,851.0 279.5,852.5 287.5,854.5 295.5,841.0 303.5,832.5 311.5,828.7 319.5,827.5 327.5,821.0 335.5,821.0 343.5,819.0 351.5,816.0 359.5,831.0 367.5,834.5 375.5,844.5 383.5,832.5 391.5,831.0 399.5,832.5 407.5,827.5 415.5,831.0 423.5,822.5 431.5,832.5 439.5,834.0 447.5,841.0 455.5,837.0 463.5,820.5 471.5,818.7 479.5,806.0 487.5,814.0 495.5,813.0 503.5,811.0 511.5,823.0 519.5,822.5 527.5,827.0 535.5,828.0 543.5,840.0 551.5,835.5 559.5,838.0 567.5,827.5 575.5,837.5 583.5,834.0 591.5,845.0 599.5,846.0 607.5,843.0 615.5,841.0 623.5,845.5 631.5,846.7 639.5,850.0 647.5,837.5 655.5,834.0 663.5,839.5 671.5,849.0 679.5,848.0 687.5,836.0 695.5,829.0 703.5,832.5 711.5,833.0 719.5,828.7 727.5,827.0 735.5,832.5 743.5,845.5 751.5,835.5 759.5,825.5 767.5,827.0 775.5,827.0 783.5,836.0 791.5,830.5 799.5,838.0 807.5,838.0 815.5,838.0 823.5,842.5 831.5,849.0 839.5,853.0 847.5,854.5 855.5,856.7 863.5,858.0 871.5,852.0 879.5,848.0 887.5,840.0 895.5,841.0 903.5,853.0 911.5,848.0 919.5,863.7 927.5,868.0 935.5,866.0 943.5,874.0 951.5,876.0 959.5,865.5 967.5,868.0 975.5,861.0 983.5,848.0 991.5,843.0 999.5,836.0 1007.5,838.0 1015.5,840.0 1023.5,822.5 1031.5,822.5 1039.5,825.5 1047.5,842.0 1055.5,833.7 1063.5,829.0 1071.5,830.5 1079.5,826.0 1087.5,821.0 1095.5,819.5 1103.5,827.5 1111.5,832.0 1119.5,835.5 1127.5,846.0 1135.5,839.5 1143.5,821.0 1151.5,824.5 1159.5,807.0 1167.5,810.5 1175.5,805.0 1183.5,800.0 1191.5,804.0 1199.5,805.5 1207.5,806.0 1215.5,803.0 1223.5,802.5 1231.5,800.5 1239.5,809.0 1247.5,805.7 1255.5,805.7 1263.5,803.0 1271.5,803.0 1279.5,798.0 1287.5,797.0 1295.5,819.5 1303.5,816.0 1311.5,819.0 1319.5,813.7 1327.5,810.5 1335.5,828.7 1343.5,833.0 1351.5,826.0 1359.5,830.0 1367.5,829.5 1375.5,832.5 1383.5,837.5 1391.5,826.0 1399.5,822.5 1407.5,830.0 1415.5,835.5 1423.5,843.0 1431.5,836.0 1439.5,833.7 1447.5,835.5 1455.5,825.0 1463.5,810.5" fill="none" stroke="#1e90ff" stroke-width="1" shape-rendering="crispEdges"/>
<line x1="1265.5" y1="797" x2="1413.9" y2="842.4" stroke="#ff0000" stroke-width="3.5"/>
<polygon points="1422.5,845.0 1410.5,846.6 1413.4,837.0" fill="#ff0000"/>
<line x1="1422.5" y1="845" x2="1467.2" y2="819.5" stroke="#ff0000" stroke-width="3.5"/>
<polygon points="1475.0,815.0 1467.9,824.8 1463.0,816.1" fill="#ff0000"/>
<g shape-rendering="crispEdges" fill="#000">
<rect x="0" y="23" width="1690" height="1"/>
<rect x="1689" y="23" width="1" height="554"/>
<rect x="0" y="576" width="1690" height="1"/>
<rect x="0" y="578" width="1690" height="1"/>
<rect x="1689" y="578" width="1" height="170"/>
<rect x="0" y="747" width="1690" height="1"/>
<rect x="0" y="749" width="1690" height="1"/>
<rect x="1689" y="749" width="1" height="176"/>
<rect x="0" y="924" width="1690" height="1"/>
</g>
<g shape-rendering="crispEdges">
<rect x="1690" y="112" width="2" height="1" fill="#000"/>
<rect x="1690" y="144" width="2" height="1" fill="#000"/>
<rect x="1690" y="177" width="2" height="1" fill="#000"/>
<rect x="1690" y="210" width="2" height="1" fill="#000"/>
<rect x="1690" y="243" width="2" height="1" fill="#000"/>
<rect x="1690" y="276" width="2" height="1" fill="#000"/>
<rect x="1690" y="309" width="2" height="1" fill="#000"/>
<rect x="1690" y="342" width="2" height="1" fill="#000"/>
<rect x="1690" y="375" width="2" height="1" fill="#000"/>
<rect x="1690" y="408" width="2" height="1" fill="#000"/>
<rect x="1690" y="441" width="2" height="1" fill="#000"/>
<rect x="1690" y="474" width="2" height="1" fill="#000"/>
<rect x="1690" y="507" width="2" height="1" fill="#000"/>
<rect x="1690" y="540" width="2" height="1" fill="#000"/>
<rect x="1690" y="573" width="2" height="1" fill="#000"/>
</g>
<text x="1695" y="116" font-family="Liberation Sans, sans-serif" font-size="10.5" fill="#000" textLength="33" lengthAdjust="spacingAndGlyphs">26711.0</text>
<text x="1695" y="148" font-family="Liberation Sans, sans-serif" font-size="10.5" fill="#000" textLength="33" lengthAdjust="spacingAndGlyphs">26397.5</text>
<text x="1695" y="181" font-family="Liberation Sans, sans-serif" font-size="10.5" fill="#000" textLength="33" lengthAdjust="spacingAndGlyphs">26074.5</text>
<text x="1695" y="214" font-family="Liberation Sans, sans-serif" font-size="10.5" fill="#000" textLength="33" lengthAdjust="spacingAndGlyphs">25761.0</text>
<text x="1695" y="247" font-family="Liberation Sans, sans-serif" font-size="10.5" fill="#000" textLength="33" lengthAdjust="spacingAndGlyphs">25447.5</text>
<text x="1695" y="280" font-family="Liberation Sans, sans-serif" font-size="10.5" fill="#000" textLength="33" lengthAdjust="spacingAndGlyphs">25134.0</text>
<text x="1695" y="313" font-family="Liberation Sans, sans-serif" font-size="10.5" fill="#000" textLength="33" lengthAdjust="spacingAndGlyphs">24811.0</text>
<text x="1695" y="346" font-family="Liberation Sans, sans-serif" font-size="10.5" fill="#000" textLength="33" lengthAdjust="spacingAndGlyphs">24497.5</text>
<text x="1695" y="379" font-family="Liberation Sans, sans-serif" font-size="10.5" fill="#000" textLength="33" lengthAdjust="spacingAndGlyphs">24184.0</text>
<text x="1695" y="412" font-family="Liberation Sans, sans-serif" font-size="10.5" fill="#000" textLength="33" lengthAdjust="spacingAndGlyphs">23870.5</text>
<text x="1695" y="445" font-family="Liberation Sans, sans-serif" font-size="10.5" fill="#000" textLength="33" lengthAdjust="spacingAndGlyphs">23547.5</text>
<text x="1695" y="478" font-family="Liberation Sans, sans-serif" font-size="10.5" fill="#000" textLength="33" lengthAdjust="spacingAndGlyphs">23234.0</text>
<text x="1695" y="511" font-family="Liberation Sans, sans-serif" font-size="10.5" fill="#000" textLength="33" lengthAdjust="spacingAndGlyphs">22920.5</text>
<text x="1695" y="544" font-family="Liberation Sans, sans-serif" font-size="10.5" fill="#000" textLength="33" lengthAdjust="spacingAndGlyphs">22607.0</text>
<text x="1695" y="577" font-family="Liberation Sans, sans-serif" font-size="10.5" fill="#000" textLength="33" lengthAdjust="spacingAndGlyphs">22293.5</text>
<rect x="1691" y="21" width="41" height="10" fill="#ff0000"/>
<text x="1695" y="29" font-family="Liberation Sans, sans-serif" font-size="10.5" fill="#fff" textLength="33" lengthAdjust="spacingAndGlyphs">27518.9</text>
<rect x="1691" y="31" width="41" height="11" fill="#ff0000"/>
<text x="1695" y="40" font-family="Liberation Sans, sans-serif" font-size="10.5" fill="#fff" textLength="33" lengthAdjust="spacingAndGlyphs">27413.8</text>
<rect x="1691" y="46" width="41" height="11" fill="#000000"/>
<text x="1695" y="55" font-family="Liberation Sans, sans-serif" font-size="10.5" fill="#fff" textLength="33" lengthAdjust="spacingAndGlyphs">27282.0</text>
<rect x="1691" y="57" width="41" height="11" fill="#32b432"/>
<text x="1695" y="66" font-family="Liberation Sans, sans-serif" font-size="10.5" fill="#fff" textLength="33" lengthAdjust="spacingAndGlyphs">27165.5</text>
<rect x="1691" y="73" width="41" height="11" fill="#0000ff"/>
<text x="1695" y="82" font-family="Liberation Sans, sans-serif" font-size="10.5" fill="#fff" textLength="33" lengthAdjust="spacingAndGlyphs">27012.6</text>
<rect x="1691" y="89" width="41" height="11" fill="#0000ff"/>
<text x="1695" y="98" font-family="Liberation Sans, sans-serif" font-size="10.5" fill="#fff" textLength="33" lengthAdjust="spacingAndGlyphs">26859.8</text>
<rect x="1689" y="45" width="4" height="1" fill="#000"/>
<svg x="1691" y="42" width="41" height="4"><text x="4" y="11" font-family="Liberation Sans, sans-serif" font-size="10.5" fill="#000" textLength="33" lengthAdjust="spacingAndGlyphs">27292.0</text></svg>
<rect x="1690" y="580" width="2" height="1" fill="#000"/>
<rect x="1690" y="643" width="2" height="1" fill="#000"/>
<rect x="1690" y="741" width="2" height="1" fill="#000"/>
<text transform="translate(1694,589) scale(0.905,1)" font-family="Liberation Sans, sans-serif" font-size="10.5" fill="#000" >625.11</text>
<text transform="translate(1695,647) scale(0.905,1)" font-family="Liberation Sans, sans-serif" font-size="10.5" fill="#000" >0.00</text>
<text x="1691" y="745" font-family="Liberation Sans, sans-serif" font-size="10.5" fill="#000" textLength="42" lengthAdjust="spacingAndGlyphs">-1036.87</text>
<text transform="translate(3,591) scale(0.905,1)" font-family="Liberation Sans, sans-serif" font-size="10.5" fill="#000" >MACD(12,26,9) 152.78 124.69</text>
<rect x="1690" y="757" width="2" height="1" fill="#000"/>
<text transform="translate(1694,761) scale(0.905,1)" font-family="Liberation Sans, sans-serif" font-size="10.5" fill="#000" >100</text>
<rect x="1690" y="786" width="2" height="1" fill="#000"/>
<text transform="translate(1694,790) scale(0.905,1)" font-family="Liberation Sans, sans-serif" font-size="10.5" fill="#000" >80</text>
<rect x="1690" y="837" width="2" height="1" fill="#000"/>
<text transform="translate(1694,841) scale(0.905,1)" font-family="Liberation Sans, sans-serif" font-size="10.5" fill="#000" >50</text>
<rect x="1690" y="898" width="2" height="1" fill="#000"/>
<text transform="translate(1694,902) scale(0.905,1)" font-family="Liberation Sans, sans-serif" font-size="10.5" fill="#000" >15</text>
<rect x="1690" y="917" width="2" height="1" fill="#000"/>
<text transform="translate(1694,921) scale(0.905,1)" font-family="Liberation Sans, sans-serif" font-size="10.5" fill="#000" >0</text>
<text transform="translate(3,763) scale(0.905,1)" font-family="Liberation Sans, sans-serif" font-size="10.5" fill="#000" >RSI(14) 66.2378</text>
<text transform="translate(-2,937) scale(0.905,1)" font-family="Liberation Sans, sans-serif" font-size="10.5" fill="#000" >3 Apr 2020</text>
<rect x="63" y="925" width="1" height="3" fill="#000" shape-rendering="crispEdges"/>
<text transform="translate(62,937) scale(0.905,1)" font-family="Liberation Sans, sans-serif" font-size="10.5" fill="#000" >17 Apr 2020</text>
<rect x="127" y="925" width="1" height="3" fill="#000" shape-rendering="crispEdges"/>
<text transform="translate(126,937) scale(0.905,1)" font-family="Liberation Sans, sans-serif" font-size="10.5" fill="#000" >29 Apr 2020</text>
<rect x="191" y="925" width="1" height="3" fill="#000" shape-rendering="crispEdges"/>
<text transform="translate(190,937) scale(0.905,1)" font-family="Liberation Sans, sans-serif" font-size="10.5" fill="#000" >13 May 2020</text>
<rect x="255" y="925" width="1" height="3" fill="#000" shape-rendering="crispEdges"/>
<text transform="translate(254,937) scale(0.905,1)" font-family="Liberation Sans, sans-serif" font-size="10.5" fill="#000" >25 May 2020</text>
<rect x="319" y="925" width="1" height="3" fill="#000" shape-rendering="crispEdges"/>
<text transform="translate(318,937) scale(0.905,1)" font-family="Liberation Sans, sans-serif" font-size="10.5" fill="#000" >4 Jun 2020</text>
<rect x="383" y="925" width="1" height="3" fill="#000" shape-rendering="crispEdges"/>
<text transform="translate(382,937) scale(0.905,1)" font-family="Liberation Sans, sans-serif" font-size="10.5" fill="#000" >16 Jun 2020</text>
<rect x="447" y="925" width="1" height="3" fill="#000" shape-rendering="crispEdges"/>
<text transform="translate(446,937) scale(0.905,1)" font-family="Liberation Sans, sans-serif" font-size="10.5" fill="#000" >29 Jun 2020</text>
<rect x="511" y="925" width="1" height="3" fill="#000" shape-rendering="crispEdges"/>
<text transform="translate(510,937) scale(0.905,1)" font-family="Liberation Sans, sans-serif" font-size="10.5" fill="#000" >10 Jul 2020</text>
<rect x="575" y="925" width="1" height="3" fill="#000" shape-rendering="crispEdges"/>
<text transform="translate(574,937) scale(0.905,1)" font-family="Liberation Sans, sans-serif" font-size="10.5" fill="#000" >22 Jul 2020</text>
<rect x="639" y="925" width="1" height="3" fill="#000" shape-rendering="crispEdges"/>
<text transform="translate(638,937) scale(0.905,1)" font-family="Liberation Sans, sans-serif" font-size="10.5" fill="#000" >3 Aug 2020</text>
<rect x="703" y="925" width="1" height="3" fill="#000" shape-rendering="crispEdges"/>
<text transform="translate(702,937) scale(0.905,1)" font-family="Liberation Sans, sans-serif" font-size="10.5" fill="#000" >13 Aug 2020</text>
<rect x="767" y="925" width="1" height="3" fill="#000" shape-rendering="crispEdges"/>
<text transform="translate(766,937) scale(0.905,1)" font-family="Liberation Sans, sans-serif" font-size="10.5" fill="#000" >25 Aug 2020</text>
<rect x="831" y="925" width="1" height="3" fill="#000" shape-rendering="crispEdges"/>
<text transform="translate(830,937) scale(0.905,1)" font-family="Liberation Sans, sans-serif" font-size="10.5" fill="#000" >4 Sep 2020</text>
<rect x="895" y="925" width="1" height="3" fill="#000" shape-rendering="crispEdges"/>
<text transform="translate(894,937) scale(0.905,1)" font-family="Liberation Sans, sans-serif" font-size="10.5" fill="#000" >16 Sep 2020</text>
<rect x="959" y="925" width="1" height="3" fill="#000" shape-rendering="crispEdges"/>
<text transform="translate(958,937) scale(0.905,1)" font-family="Liberation Sans, sans-serif" font-size="10.5" fill="#000" >28 Sep 2020</text>
<rect x="1023" y="925" width="1" height="3" fill="#000" shape-rendering="crispEdges"/>
<text transform="translate(1022,937) scale(0.905,1)" font-family="Liberation Sans, sans-serif" font-size="10.5" fill="#000" >12 Oct 2020</text>
<rect x="1087" y="925" width="1" height="3" fill="#000" shape-rendering="crispEdges"/>
<text transform="translate(1086,937) scale(0.905,1)" font-family="Liberation Sans, sans-serif" font-size="10.5" fill="#000" >22 Oct 2020</text>
<rect x="1151" y="925" width="1" height="3" fill="#000" shape-rendering="crispEdges"/>
<text transform="translate(1150,937) scale(0.905,1)" font-family="Liberation Sans, sans-serif" font-size="10.5" fill="#000" >4 Nov 2020</text>
<rect x="1215" y="925" width="1" height="3" fill="#000" shape-rendering="crispEdges"/>
<text transform="translate(1214,937) scale(0.905,1)" font-family="Liberation Sans, sans-serif" font-size="10.5" fill="#000" >16 Nov 2020</text>
<rect x="1279" y="925" width="1" height="3" fill="#000" shape-rendering="crispEdges"/>
<text transform="translate(1278,937) scale(0.905,1)" font-family="Liberation Sans, sans-serif" font-size="10.5" fill="#000" >26 Nov 2020</text>
<rect x="1343" y="925" width="1" height="3" fill="#000" shape-rendering="crispEdges"/>
<text transform="translate(1342,937) scale(0.905,1)" font-family="Liberation Sans, sans-serif" font-size="10.5" fill="#000" >8 Dec 2020</text>
<rect x="1407" y="925" width="1" height="3" fill="#000" shape-rendering="crispEdges"/>
<text transform="translate(1406,937) scale(0.905,1)" font-family="Liberation Sans, sans-serif" font-size="10.5" fill="#000" >18 Dec 2020</text>
<polygon points="2.5,34 9.5,34 6,29.5" fill="#000"/>
<text transform="translate(14,35) scale(0.905,1)" font-family="Liberation Sans, sans-serif" font-size="10.5" fill="#000" xml:space="preserve">HK50-,Daily  26627.0 27292.5 26623.0 27282.0</text>
</svg>
<div style="position:absolute;left:1735px;top:21px;width:1px;height:920px;background:#c8c8c8"></div>

<div class="tp" style="left:0;top:42px;width:222px;height:66px;background:#fff;"></div>
<div class="tp" style="left:2px;top:43px;width:52px;height:24px;background:linear-gradient(#f45a5a,#e03a3a);"></div>
<div class="tp" style="left:2px;top:67px;width:109px;height:40px;background:linear-gradient(#dc3434,#b00606);"></div>
<div class="tp" style="left:169px;top:43px;width:52px;height:24px;background:linear-gradient(#f45a5a,#e03a3a);"></div>
<div class="tp" style="left:113px;top:67px;width:108px;height:40px;background:linear-gradient(#dc3434,#b00606);"></div>
<div class="tp" style="left:6px;top:66px;width:44px;height:1px;background:#c02020;"></div>
<div class="tp" style="left:173px;top:66px;width:44px;height:1px;background:#c02020;"></div>
<div class="tp" style="left:14px;top:48px;color:#fff;font-size:11.5px;">SELL</div>
<div class="tp" style="left:182px;top:48px;color:#fff;font-size:11.5px;">BUY</div>
<div class="tp" style="left:56px;top:43px;width:110px;height:22px;background:#fff;border:1px solid #b4b4b4;box-sizing:border-box;"></div>
<div class="tp" style="left:57px;top:44px;width:20px;height:20px;background:linear-gradient(#f0f0f0,#d8d8d8);border-right:1px solid #b4b4b4;box-sizing:border-box;"></div>
<div class="tp" style="left:145px;top:44px;width:20px;height:20px;background:linear-gradient(#f0f0f0,#d8d8d8);border-left:1px solid #b4b4b4;box-sizing:border-box;"></div>
<svg class="tp" style="left:0;top:0" width="230" height="110">
<polygon points="64,53 68,53 66,55.5" fill="#4060c0"/>
<polygon points="153,55.5 157,55.5 155,53" fill="#4060c0"/>
</svg>
<div class="tp" style="left:100px;top:48px;width:42px;text-align:right;color:#000;font-size:12px;">1.00</div>
<div class="tp" style="left:18px;top:87px;color:#fff;font-size:12px;font-weight:bold;">27280</div>
<div class="tp" style="left:56px;top:82px;color:#fff;font-size:16px;font-weight:bold;">.</div>
<div class="tp" style="left:64px;top:68px;color:#fff;font-size:33px;transform:scaleX(0.82);transform-origin:0 0;">5</div>
<div class="tp" style="left:128px;top:87px;color:#fff;font-size:12px;font-weight:bold;">27294</div>
<div class="tp" style="left:167px;top:82px;color:#fff;font-size:16px;font-weight:bold;">.</div>
<div class="tp" style="left:175px;top:68px;color:#fff;font-size:33px;transform:scaleX(0.82);transform-origin:0 0;">5</div>

<svg style="position:absolute;left:0;top:0" width="1736" height="19"><rect x="0.5" y="0.5" width="12" height="13" fill="#fff" stroke="#3a78c8" stroke-width="1.2"/><rect x="2" y="2.0" width="1" height="1" fill="#e02020"/><rect x="4" y="2.0" width="7" height="1" fill="#a8c8f0"/><rect x="2" y="4.0" width="1" height="1" fill="#303030"/><rect x="4" y="4.0" width="7" height="1" fill="#a8c8f0"/><rect x="2" y="6.0" width="1" height="1" fill="#303030"/><rect x="4" y="6.0" width="7" height="1" fill="#a8c8f0"/><rect x="2" y="8.0" width="1" height="1" fill="#e02020"/><rect x="4" y="8.0" width="7" height="1" fill="#a8c8f0"/><rect x="25.5" y="0" width="12" height="12.5" fill="#fbfbf6" stroke="#b8b0a0" stroke-width="1"/><circle cx="33.5" cy="8" r="4.6" fill="#dfeefa" stroke="#5a8ad0" stroke-width="1.2"/><rect x="32" y="5" width="2" height="5" fill="#90a0b8"/><line x1="37" y1="11.5" x2="42" y2="16" stroke="#c8a020" stroke-width="2.2"/><rect x="50" y="1" width="1" height="16" fill="#a0a0a0"/><path d="M60.5,0.5H70L72.5,3V12.5H60.5Z" fill="#fff" stroke="#909090" stroke-width="1"/><rect x="62" y="2" width="3" height="1" fill="#909090"/><rect x="62" y="5" width="6" height="1" fill="#b0b0b0"/><rect x="62" y="7" width="6" height="1" fill="#b0b0b0"/><path d="M68,5H72V10H76.5V13.5H72V17H68V13.5H64V10H68Z" fill="#20c020" stroke="#108010" stroke-width="0.6"/><path transform="translate(79.00,0) scale(1.0000)" d="M3,0.5V1.5 M0.5,2H6 M1.5,2.5L2,4 M5,2.5L4.5,4 M0.5,4.5H6.5 M0.5,6.5H6.5 M3.5,4.5V11 M3,7.5L0.5,10 M4,7.5L6,9.5 M11,0.5L7.5,2V7Q7.5,10 6.5,11 M7.5,5H12 M10,5V11" fill="none" stroke="#000" stroke-width="1.150" stroke-linecap="square"/><path transform="translate(91.00,0) scale(1.0000)" d="M1,1L2,2 M0.5,4.5H2.5V10L3.5,9 M5,1.5H12 M9,1.5V10.5Q9,11 7.5,10.5" fill="none" stroke="#000" stroke-width="1.150" stroke-linecap="square"/><path transform="translate(103.00,0) scale(1.0000)" d="M3,0L4,1.5 M9,0L8,1.5 M1.5,2H10.5V7.5H1.5Z M1.5,4.7H10.5 M6,2V11.5 M0,9.5H12" fill="none" stroke="#000" stroke-width="1.150" stroke-linecap="square"/><path d="M127.5,9L133,0.5L143,8L136,14.5Z" fill="#e8b828" stroke="#a06810" stroke-width="1"/><path d="M129,10.5L136,14.5L143,9" fill="none" stroke="#a06810" stroke-width="1"/><rect x="157" y="0" width="11" height="8" fill="#2a8ae8"/><rect x="161" y="2" width="6" height="3" fill="#bfe0ff"/><path d="M156,14.5Q154.5,11 158,10.5Q159,7.5 162.5,8.5Q165,6.5 167.5,9.5Q171,9.5 170.5,13Q170.5,14.5 168,14.5Z" fill="#eef2f8" stroke="#5070a8" stroke-width="1"/><circle cx="191" cy="7.5" r="7" fill="none" stroke="#5080d0" stroke-width="0.8" opacity="0.7"/><circle cx="191" cy="7.5" r="4.5" fill="none" stroke="#5090c0" stroke-width="0.8" opacity="0.8"/><circle cx="191" cy="7" r="1.6" fill="#2050c0"/><line x1="191.5" y1="7" x2="191.5" y2="15" stroke="#20a020" stroke-width="1.2"/><path d="M191.5,15A7,7 0 0 0 198,8" fill="none" stroke="#80c080" stroke-width="1"/><path d="M210.5,7Q211,13 217,15L222,13L226,5Z" fill="#f0dc50" stroke="#c8a030" stroke-width="0.8"/><ellipse cx="218" cy="4" rx="7.5" ry="2.6" fill="#58b8e8" stroke="#3890c0" stroke-width="0.8"/><path d="M215,3.5L216.5,0H219.5L221,3.5Z" fill="#58b8e8"/><circle cx="222.5" cy="10.5" r="4" fill="#e03020"/><rect x="221" y="9" width="3" height="3" fill="#fff"/><path transform="translate(231.00,0) scale(1.0000)" d="M5.5,0L4.5,1.5 M2,1.5H10V11H2Z M2,4.5H10 M2,7.7H10" fill="none" stroke="#000" stroke-width="1.150" stroke-linecap="square"/><path transform="translate(243.00,0) scale(1.0000)" d="M0.5,1.5H5 M0,4H5.5 M2.5,4L1,9.5H5.5 M4,7.5L5.5,10 M6,3.5H11V9.5Q11,11 9.5,10.5 M8.5,0.5V5Q8.5,9 6,11" fill="none" stroke="#000" stroke-width="1.150" stroke-linecap="square"/><path transform="translate(255.00,0) scale(1.0000)" d="M6,0V1.5 M0.5,2H11.5 M3.5,3L1.5,5 M8.5,3L10.5,5 M9,5Q6,10 1,11.5 M3,5.5Q6,10 11.5,11.5" fill="none" stroke="#000" stroke-width="1.150" stroke-linecap="square"/><path transform="translate(267.00,0) scale(1.0000)" d="M2.5,0.5H9.5V5H2.5Z M2.5,2.7H9.5 M3,5L1,8 M2.5,6.5H11V10Q11,11.5 9.5,11 M5,6.5L2.5,10 M8,6.5L5,11" fill="none" stroke="#000" stroke-width="1.150" stroke-linecap="square"/><rect x="286" y="1" width="1" height="16" fill="#a0a0a0"/><rect x="290" y="2" width="3" height="1" fill="#a8a8a8"/><rect x="290" y="4" width="3" height="1" fill="#a8a8a8"/><rect x="290" y="6" width="3" height="1" fill="#a8a8a8"/><rect x="290" y="8" width="3" height="1" fill="#a8a8a8"/><rect x="290" y="10" width="3" height="1" fill="#a8a8a8"/><rect x="290" y="12" width="3" height="1" fill="#a8a8a8"/><rect x="290" y="14" width="3" height="1" fill="#a8a8a8"/><rect x="290" y="16" width="3" height="1" fill="#a8a8a8"/><path d="M303.5,1V13.5H316" fill="none" stroke="#505050" stroke-width="1"/><path d="M302.5,2.5L303.5,1L304.5,2.5 M314.5,12.5L316,13.5L314.5,14.5" fill="none" stroke="#505050" stroke-width="1"/><path d="M309.5,3V10 M309.5,4H311 M309.5,9H308" fill="none" stroke="#20a020" stroke-width="1.2"/><rect x="324" y="1" width="1" height="16" fill="#a0a0a0"/><rect x="325" y="0" width="24" height="18" fill="#f6f6f6"/><path d="M331.5,1V13.5H344" fill="none" stroke="#505050" stroke-width="1"/><path d="M330.5,2.5L331.5,1L332.5,2.5 M342.5,12.5L344,13.5L342.5,14.5" fill="none" stroke="#505050" stroke-width="1"/><rect x="336" y="2" width="4" height="7" fill="#30c030" stroke="#108010" stroke-width="0.8"/><rect x="337.5" y="0" width="1" height="11" fill="#108010"/><path d="M359.5,1V13.5H372" fill="none" stroke="#505050" stroke-width="1"/><path d="M358.5,2.5L359.5,1L360.5,2.5 M370.5,12.5L372,13.5L370.5,14.5" fill="none" stroke="#505050" stroke-width="1"/><path d="M360,10L365,4.5L371,8.5" fill="none" stroke="#20a020" stroke-width="1"/><rect x="381" y="1" width="1" height="16" fill="#a0a0a0"/><circle cx="395.5" cy="6" r="5" fill="#d8ecfa" stroke="#3a78c8" stroke-width="1.3"/><rect x="393" y="5.3" width="5" height="1.5" fill="#3a78c8"/><rect x="394.75" y="3.5" width="1.5" height="5" fill="#3a78c8"/><line x1="399" y1="9.5" x2="404" y2="14.5" stroke="#d0a818" stroke-width="2.3"/><circle cx="423.5" cy="6" r="5" fill="#d8ecfa" stroke="#3a78c8" stroke-width="1.3"/><rect x="421" y="5.3" width="5" height="1.5" fill="#3a78c8"/><line x1="427" y1="9.5" x2="432" y2="14.5" stroke="#d0a818" stroke-width="2.3"/><rect x="446" y="0" width="8" height="7" fill="#30a030"/><rect x="454.5" y="0" width="8" height="7" fill="#3060d8"/><rect x="446" y="7.5" width="8" height="7" fill="#3060d8"/><rect x="454.5" y="7.5" width="8" height="7" fill="#30a030"/><rect x="447" y="2" width="6" height="3" fill="#e8f0e8"/><rect x="455.5" y="2" width="6" height="3" fill="#e8f0e8"/><rect x="447" y="9.5" width="6" height="3" fill="#e8f0e8"/><rect x="455.5" y="9.5" width="6" height="3" fill="#e8f0e8"/><rect x="471" y="1" width="1" height="16" fill="#a0a0a0"/><rect x="476" y="1" width="1" height="16" fill="#a0a0a0"/><rect x="477" y="0" width="24" height="18" fill="#f6f6f6"/><path d="M483.5,1V13.5H496" fill="none" stroke="#505050" stroke-width="1"/><path d="M482.5,2.5L483.5,1L484.5,2.5 M494.5,12.5L496,13.5L494.5,14.5" fill="none" stroke="#505050" stroke-width="1"/><polygon points="489,3 489,9 493,6" fill="#20b020"/><rect x="504" y="1" width="1" height="16" fill="#a0a0a0"/><rect x="505" y="0" width="24" height="18" fill="#f6f6f6"/><path d="M511.5,1V13.5H524" fill="none" stroke="#505050" stroke-width="1"/><path d="M510.5,2.5L511.5,1L512.5,2.5 M522.5,12.5L524,13.5L522.5,14.5" fill="none" stroke="#505050" stroke-width="1"/><rect x="517" y="2" width="1" height="11" fill="#2070c0"/><polygon points="518.5,6 522,4 522,8" fill="#e03010"/><rect x="519" y="5.5" width="4" height="1" fill="#e03010"/><rect x="533" y="1" width="1" height="16" fill="#a0a0a0"/><path d="M543.5,0.5H551L553,2.5V12.5H543.5Z" fill="#fff" stroke="#909090" stroke-width="1"/><path d="M545,3Q547,6 545,9" fill="none" stroke="#808080" stroke-width="0.8"/><path d="M551,6H555V10H559V13.5H555V17.5H551V13.5H547V10H551Z" fill="#20c020" stroke="#108010" stroke-width="0.6"/><polygon points="565,6 571,6 568,9" fill="#000"/><circle cx="589" cy="7.5" r="7" fill="#2a7ad8"/><circle cx="589" cy="7.5" r="5" fill="#f4f8ff"/><path d="M589,4V7.8H591.5" fill="none" stroke="#404040" stroke-width="0.9"/><polygon points="603,6 609,6 606,9" fill="#000"/><rect x="620.5" y="0.5" width="15" height="13" fill="#fff" stroke="#3a6ac0" stroke-width="1.2"/><rect x="621" y="1" width="14" height="2" fill="#4a80d8"/><rect x="621" y="7" width="14" height="1" fill="#3a6ac0"/><path d="M622,6L625,4.5L628,5.5L631,4L634,5" fill="none" stroke="#c02020" stroke-width="1"/><path d="M622,12L625,10L628,11.5L631,9.5L634,11" fill="none" stroke="#20a020" stroke-width="1"/><polygon points="643,6 649,6 646,9" fill="#000"/><rect x="654" y="1" width="1" height="16" fill="#a0a0a0"/><rect x="658" y="2" width="3" height="1" fill="#a8a8a8"/><rect x="658" y="4" width="3" height="1" fill="#a8a8a8"/><rect x="658" y="6" width="3" height="1" fill="#a8a8a8"/><rect x="658" y="8" width="3" height="1" fill="#a8a8a8"/><rect x="658" y="10" width="3" height="1" fill="#a8a8a8"/><rect x="658" y="12" width="3" height="1" fill="#a8a8a8"/><rect x="658" y="14" width="3" height="1" fill="#a8a8a8"/><rect x="658" y="16" width="3" height="1" fill="#a8a8a8"/><rect x="664" y="1" width="1" height="16" fill="#a0a0a0"/><rect x="665" y="0" width="25" height="18" fill="#f6f6f6"/><path d="M672,1V13L675,10.5L677.5,14.5L679,13.5L676.5,9.5H680Z" fill="#505050"/><path d="M697,7.5H712 M704.5,0V15" fill="none" stroke="#505050" stroke-width="1"/><rect x="721" y="1" width="1" height="16" fill="#a0a0a0"/><rect x="738" y="1" width="1" height="13" fill="#505050"/><rect x="760" y="7" width="13" height="1" fill="#505050"/><line x1="788" y1="14" x2="801" y2="1" stroke="#505050" stroke-width="1"/><path d="M815,12L827,1 M817,14L829,3 M819,7H826 M816,10H823" fill="none" stroke="#505050" stroke-width="1"/><text x="826" y="15.5" font-family="Liberation Sans, sans-serif" font-size="6" font-weight="bold" fill="#505050">E</text><line x1="844" y1="1.5" x2="857" y2="1.5" stroke="#606060" stroke-width="1" stroke-dasharray="1,1"/><line x1="844" y1="4.5" x2="857" y2="4.5" stroke="#606060" stroke-width="1" stroke-dasharray="1,1"/><line x1="844" y1="7.5" x2="857" y2="7.5" stroke="#606060" stroke-width="1" stroke-dasharray="1,1"/><line x1="844" y1="10.5" x2="857" y2="10.5" stroke="#606060" stroke-width="1" stroke-dasharray="1,1"/><text x="853.5" y="15.5" font-family="Liberation Sans, sans-serif" font-size="6" font-weight="bold" fill="#505050">F</text><text x="874.5" y="11.5" font-family="Liberation Sans, sans-serif" font-size="11" font-weight="bold" fill="#606060">A</text><rect x="901.5" y="1.5" width="12" height="12" fill="none" stroke="#808080" stroke-width="1" stroke-dasharray="1,1"/><text x="903.5" y="11.5" font-family="Liberation Sans, sans-serif" font-size="11" font-weight="bold" fill="#606060">T</text><path d="M928,3.5L931,1L933,3.5L931,6Z M937,9.5L940,7L942,9.5L940,12Z M931,5L935,9.5L938,6" fill="#505050" stroke="#505050" stroke-width="0.8"/><polygon points="949,6 955,6 952,9" fill="#000"/><rect x="960" y="1" width="1" height="16" fill="#a0a0a0"/><rect x="964" y="2" width="3" height="1" fill="#a8a8a8"/><rect x="964" y="4" width="3" height="1" fill="#a8a8a8"/><rect x="964" y="6" width="3" height="1" fill="#a8a8a8"/><rect x="964" y="8" width="3" height="1" fill="#a8a8a8"/><rect x="964" y="10" width="3" height="1" fill="#a8a8a8"/><rect x="964" y="12" width="3" height="1" fill="#a8a8a8"/><rect x="964" y="14" width="3" height="1" fill="#a8a8a8"/><rect x="964" y="16" width="3" height="1" fill="#a8a8a8"/><text x="975.5" y="11.5" font-family="Liberation Sans, sans-serif" font-size="10" fill="#404040">M1</text><text x="1003.5" y="11.5" font-family="Liberation Sans, sans-serif" font-size="10" fill="#404040">M5</text><text x="1029.5" y="11.5" font-family="Liberation Sans, sans-serif" font-size="10" fill="#404040">M15</text><text x="1057" y="11.5" font-family="Liberation Sans, sans-serif" font-size="10" fill="#404040">M30</text><text x="1088.5" y="11.5" font-family="Liberation Sans, sans-serif" font-size="10" fill="#404040">H1</text><text x="1115.5" y="11.5" font-family="Liberation Sans, sans-serif" font-size="10" fill="#404040">H4</text><rect x="1138" y="1" width="1" height="16" fill="#a0a0a0"/><rect x="1140" y="0" width="23" height="18" fill="#f6f6f6"/><text x="1143" y="11.5" font-family="Liberation Sans, sans-serif" font-size="10" fill="#404040">D1</text><text x="1171.5" y="11.5" font-family="Liberation Sans, sans-serif" font-size="10" fill="#404040">W1</text><text x="1198.5" y="11.5" font-family="Liberation Sans, sans-serif" font-size="10" fill="#404040">MN</text><rect x="1221" y="1" width="1" height="16" fill="#a0a0a0"/><circle cx="1691.5" cy="4.5" r="3.6" fill="none" stroke="#3060c0" stroke-width="1.4"/><line x1="1689" y1="7" x2="1684.5" y2="11.5" stroke="#3060c0" stroke-width="1.8"/><path d="M1708.5,10Q1708.5,5.5 1714.5,5.5Q1720.5,5.5 1720.5,10Q1720.5,14 1714.5,14L1711.5,16.5L1712,13.5Q1708.5,13 1708.5,10Z" fill="#f4f4f4" stroke="#b0b0b0" stroke-width="0.8"/><circle cx="1722.5" cy="5" r="7.8" fill="#d83a20"/><text x="1719.5" y="9.5" font-family="Liberation Sans, sans-serif" font-size="11" fill="#fff">1</text></svg>
<svg style="position:absolute;left:0;top:0" width="1736" height="100"><path transform="translate(1538.00,67) scale(1.5417)" d="M5,0.5L2,3.5 M4,1.5H8L3,6.5 M4,3L5.5,4.5 M7,5.5L3,9 M6,6.5H10.5L2,12 M6,8L7.5,9.5" fill="none" stroke="#00ff00" stroke-width="0.714" stroke-linecap="square"/><path transform="translate(1559.80,67) scale(1.5417)" d="M6,0V1.5 M1,3.5V2H11V3.5 M4.5,3.5L2.5,6 M7.5,3.5L10,6 M3,7H9 M6,7V11 M1,11H11" fill="none" stroke="#00ff00" stroke-width="0.714" stroke-linecap="square"/><path transform="translate(1581.60,67) scale(1.5417)" d="M0.5,2.5H5 M3,0.5L1,7H5 M3,4.5V11.5 M0.5,9H5.5 M6,2.5H11.5 M6,5H11.5 M9,0.5L7,7.5H10.5L8.5,10 M8,9L10,11" fill="none" stroke="#00ff00" stroke-width="0.714" stroke-linecap="square"/><path transform="translate(1603.40,67) scale(1.5417)" d="M0.5,3.5H4.5 M2.5,0.5V10.5Q2.5,11.5 1.5,11 M0.5,8L4.5,6.5 M11,0.5L6.5,2.5V7Q6.5,10 5.5,11.5 M6.5,5.5H11.5 M9.5,5.5V11.5" fill="none" stroke="#00ff00" stroke-width="0.714" stroke-linecap="square"/><path transform="translate(1625.20,67) scale(1.5417)" d="M5.5,0.5V4.5 M5.5,2.5H10 M2.5,4.5H9.5V8H2.5Z M1.5,9.5L0.5,11.5 M4,9.5L4.5,11.5 M7,9.5L7.5,11.5 M9.5,9.5L11,11.5" fill="none" stroke="#00ff00" stroke-width="0.714" stroke-linecap="square"/></svg>
</body></html>
